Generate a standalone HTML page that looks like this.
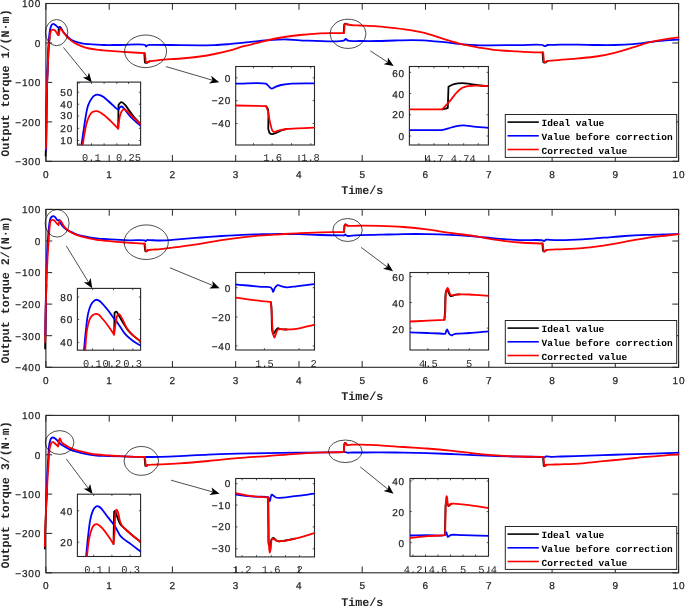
<!DOCTYPE html>
<html><head><meta charset="utf-8"><style>
html,body{margin:0;padding:0;background:#fff;width:685px;height:607px;overflow:hidden}
svg{display:block;text-rendering:geometricPrecision;will-change:transform}
</style></head><body>
<svg width="685" height="607" viewBox="0 0 685 607">
<rect width="685" height="607" fill="#fff"/>
<rect x="45.9" y="3.5" width="632.7" height="157.8" fill="none" stroke="#262626" stroke-width="1.1"/>
<line x1="45.9" y1="3.5" x2="52.2" y2="3.5" stroke="#262626" stroke-width="1"/>
<line x1="678.6" y1="3.5" x2="672.3" y2="3.5" stroke="#262626" stroke-width="1"/>
<text x="41.2" y="7.3" text-anchor="end" style='font-family:"Liberation Sans",sans-serif;font-size:10px;letter-spacing:0.85px;fill:#262626;stroke:#262626;stroke-width:0.25px'>100</text>
<line x1="45.9" y1="43.0" x2="52.2" y2="43.0" stroke="#262626" stroke-width="1"/>
<line x1="678.6" y1="43.0" x2="672.3" y2="43.0" stroke="#262626" stroke-width="1"/>
<text x="41.2" y="46.8" text-anchor="end" style='font-family:"Liberation Sans",sans-serif;font-size:10px;letter-spacing:0.85px;fill:#262626;stroke:#262626;stroke-width:0.25px'>0</text>
<line x1="45.9" y1="82.4" x2="52.2" y2="82.4" stroke="#262626" stroke-width="1"/>
<line x1="678.6" y1="82.4" x2="672.3" y2="82.4" stroke="#262626" stroke-width="1"/>
<text x="41.2" y="86.2" text-anchor="end" style='font-family:"Liberation Sans",sans-serif;font-size:10px;letter-spacing:0.85px;fill:#262626;stroke:#262626;stroke-width:0.25px'>&#8722;100</text>
<line x1="45.9" y1="121.9" x2="52.2" y2="121.9" stroke="#262626" stroke-width="1"/>
<line x1="678.6" y1="121.9" x2="672.3" y2="121.9" stroke="#262626" stroke-width="1"/>
<text x="41.2" y="125.7" text-anchor="end" style='font-family:"Liberation Sans",sans-serif;font-size:10px;letter-spacing:0.85px;fill:#262626;stroke:#262626;stroke-width:0.25px'>&#8722;200</text>
<line x1="45.9" y1="161.3" x2="52.2" y2="161.3" stroke="#262626" stroke-width="1"/>
<line x1="678.6" y1="161.3" x2="672.3" y2="161.3" stroke="#262626" stroke-width="1"/>
<text x="41.2" y="165.1" text-anchor="end" style='font-family:"Liberation Sans",sans-serif;font-size:10px;letter-spacing:0.85px;fill:#262626;stroke:#262626;stroke-width:0.25px'>&#8722;300</text>
<line x1="45.9" y1="3.5" x2="45.9" y2="9.8" stroke="#262626" stroke-width="1"/>
<line x1="45.9" y1="161.3" x2="45.9" y2="155.0" stroke="#262626" stroke-width="1"/>
<text x="46.2" y="177.7" text-anchor="middle" style='font-family:"Liberation Sans",sans-serif;font-size:10px;letter-spacing:0.85px;fill:#262626;stroke:#262626;stroke-width:0.25px'>0</text>
<line x1="109.2" y1="3.5" x2="109.2" y2="9.8" stroke="#262626" stroke-width="1"/>
<line x1="109.2" y1="161.3" x2="109.2" y2="155.0" stroke="#262626" stroke-width="1"/>
<text x="109.5" y="177.7" text-anchor="middle" style='font-family:"Liberation Sans",sans-serif;font-size:10px;letter-spacing:0.85px;fill:#262626;stroke:#262626;stroke-width:0.25px'>1</text>
<line x1="172.4" y1="3.5" x2="172.4" y2="9.8" stroke="#262626" stroke-width="1"/>
<line x1="172.4" y1="161.3" x2="172.4" y2="155.0" stroke="#262626" stroke-width="1"/>
<text x="172.7" y="177.7" text-anchor="middle" style='font-family:"Liberation Sans",sans-serif;font-size:10px;letter-spacing:0.85px;fill:#262626;stroke:#262626;stroke-width:0.25px'>2</text>
<line x1="235.7" y1="3.5" x2="235.7" y2="9.8" stroke="#262626" stroke-width="1"/>
<line x1="235.7" y1="161.3" x2="235.7" y2="155.0" stroke="#262626" stroke-width="1"/>
<text x="236.0" y="177.7" text-anchor="middle" style='font-family:"Liberation Sans",sans-serif;font-size:10px;letter-spacing:0.85px;fill:#262626;stroke:#262626;stroke-width:0.25px'>3</text>
<line x1="299.0" y1="3.5" x2="299.0" y2="9.8" stroke="#262626" stroke-width="1"/>
<line x1="299.0" y1="161.3" x2="299.0" y2="155.0" stroke="#262626" stroke-width="1"/>
<text x="299.3" y="177.7" text-anchor="middle" style='font-family:"Liberation Sans",sans-serif;font-size:10px;letter-spacing:0.85px;fill:#262626;stroke:#262626;stroke-width:0.25px'>4</text>
<line x1="362.2" y1="3.5" x2="362.2" y2="9.8" stroke="#262626" stroke-width="1"/>
<line x1="362.2" y1="161.3" x2="362.2" y2="155.0" stroke="#262626" stroke-width="1"/>
<text x="362.6" y="177.7" text-anchor="middle" style='font-family:"Liberation Sans",sans-serif;font-size:10px;letter-spacing:0.85px;fill:#262626;stroke:#262626;stroke-width:0.25px'>5</text>
<line x1="425.5" y1="3.5" x2="425.5" y2="9.8" stroke="#262626" stroke-width="1"/>
<line x1="425.5" y1="161.3" x2="425.5" y2="155.0" stroke="#262626" stroke-width="1"/>
<text x="425.8" y="177.7" text-anchor="middle" style='font-family:"Liberation Sans",sans-serif;font-size:10px;letter-spacing:0.85px;fill:#262626;stroke:#262626;stroke-width:0.25px'>6</text>
<line x1="488.8" y1="3.5" x2="488.8" y2="9.8" stroke="#262626" stroke-width="1"/>
<line x1="488.8" y1="161.3" x2="488.8" y2="155.0" stroke="#262626" stroke-width="1"/>
<text x="489.1" y="177.7" text-anchor="middle" style='font-family:"Liberation Sans",sans-serif;font-size:10px;letter-spacing:0.85px;fill:#262626;stroke:#262626;stroke-width:0.25px'>7</text>
<line x1="552.1" y1="3.5" x2="552.1" y2="9.8" stroke="#262626" stroke-width="1"/>
<line x1="552.1" y1="161.3" x2="552.1" y2="155.0" stroke="#262626" stroke-width="1"/>
<text x="552.4" y="177.7" text-anchor="middle" style='font-family:"Liberation Sans",sans-serif;font-size:10px;letter-spacing:0.85px;fill:#262626;stroke:#262626;stroke-width:0.25px'>8</text>
<line x1="615.3" y1="3.5" x2="615.3" y2="9.8" stroke="#262626" stroke-width="1"/>
<line x1="615.3" y1="161.3" x2="615.3" y2="155.0" stroke="#262626" stroke-width="1"/>
<text x="615.6" y="177.7" text-anchor="middle" style='font-family:"Liberation Sans",sans-serif;font-size:10px;letter-spacing:0.85px;fill:#262626;stroke:#262626;stroke-width:0.25px'>9</text>
<line x1="678.6" y1="3.5" x2="678.6" y2="9.8" stroke="#262626" stroke-width="1"/>
<line x1="678.6" y1="161.3" x2="678.6" y2="155.0" stroke="#262626" stroke-width="1"/>
<text x="678.9" y="177.7" text-anchor="middle" style='font-family:"Liberation Sans",sans-serif;font-size:10px;letter-spacing:0.85px;fill:#262626;stroke:#262626;stroke-width:0.25px'>10</text>
<text transform="translate(9.0,83.0) rotate(-90)" text-anchor="middle" style='font-family:"Liberation Mono",monospace;font-size:11.7px;font-weight:bold;fill:#262626'>Output torque 1/(N&#183;m)</text>
<text x="362.2" y="194.2" text-anchor="middle" style='font-family:"Liberation Mono",monospace;font-size:11.7px;font-weight:bold;fill:#262626'>Time/s</text>
<path d="M45.60,155.50 C45.73,152.33 45.87,150.50 46.00,146.00 C46.32,134.99 46.47,104.06 46.90,89.00 C47.18,79.10 47.56,72.02 47.90,64.40 C48.19,57.79 48.42,50.91 48.80,45.90 C49.06,42.46 49.40,40.10 49.70,37.20" fill="none" stroke="#000" stroke-width="1.80" stroke-linejoin="round" stroke-linecap="round"/>
<path d="M58.10,34.80 L58.50,35.00 C58.67,32.50 58.33,28.51 59.00,27.50 C59.26,27.11 59.67,26.91 60.00,27.00 C60.52,27.15 61.00,28.60 61.50,29.40" fill="none" stroke="#000" stroke-width="1.80" stroke-linejoin="round" stroke-linecap="round"/>
<path d="M144.30,53.20 L144.90,62.50 C145.43,62.60 145.88,62.88 146.50,62.80 C147.46,62.68 148.83,61.73 150.00,61.20" fill="none" stroke="#000" stroke-width="1.80" stroke-linejoin="round" stroke-linecap="round"/>
<path d="M343.60,33.10 L344.30,24.30 C344.70,24.07 345.03,23.64 345.50,23.60 C346.13,23.55 347.03,24.20 347.80,24.50" fill="none" stroke="#000" stroke-width="1.80" stroke-linejoin="round" stroke-linecap="round"/>
<path d="M542.60,52.50 L543.30,62.30 C543.87,62.40 544.41,62.72 545.00,62.60 C545.76,62.45 546.60,61.60 547.40,61.10" fill="none" stroke="#000" stroke-width="1.80" stroke-linejoin="round" stroke-linecap="round"/>
<path d="M46.20,150.00 C46.33,136.67 46.41,122.38 46.60,110.00 C46.76,99.28 46.95,89.54 47.20,80.00 C47.43,71.29 47.66,62.53 48.00,55.00 C48.28,48.79 48.54,42.77 49.00,38.00 C49.33,34.52 49.65,31.34 50.20,29.00 C50.57,27.44 50.87,26.08 51.50,25.20 C51.96,24.56 52.61,23.96 53.20,23.90 C53.78,23.85 54.35,24.37 55.00,24.80 C55.93,25.41 57.42,26.93 58.10,27.40 C58.40,27.61 58.54,27.79 58.80,27.80 C59.12,27.81 59.55,27.25 59.90,27.30 C60.28,27.35 60.60,27.75 61.00,28.20 C61.74,29.03 62.61,30.88 63.60,32.20 C64.68,33.64 66.03,35.23 67.30,36.50 C68.47,37.67 69.64,38.77 70.90,39.60 C72.08,40.37 73.13,40.86 74.60,41.40 C76.59,42.14 79.45,42.83 81.90,43.30 C84.32,43.76 86.76,43.97 89.20,44.20 C91.63,44.43 94.07,44.57 96.50,44.70 C98.93,44.83 100.89,44.94 103.80,45.00 C108.14,45.09 114.02,45.00 120.00,45.00 C127.43,45.00 142.16,43.56 145.00,45.00 C145.78,45.39 145.69,46.46 146.10,46.50 C146.52,46.54 146.91,45.47 147.50,45.20 C148.17,44.89 148.70,44.97 150.00,44.90 C154.48,44.65 171.01,45.03 180.00,45.10 C187.34,45.16 193.86,45.29 200.00,45.30 C205.25,45.31 209.74,45.40 214.60,45.20 C219.47,45.00 224.34,44.53 229.20,44.10 C234.07,43.67 238.93,43.10 243.80,42.60 C248.67,42.10 253.53,41.57 258.40,41.10 C263.27,40.63 268.13,40.07 273.00,39.80 C277.86,39.53 282.93,39.40 287.60,39.50 C291.90,39.59 294.60,40.10 300.00,40.30 C310.14,40.67 338.74,42.61 343.80,40.70 C345.05,40.23 345.11,38.92 345.80,38.90 C346.51,38.88 346.87,40.28 348.00,40.70 C350.32,41.56 355.62,40.95 360.00,41.00 C365.28,41.07 371.67,41.08 377.50,41.00 C383.33,40.92 389.23,40.63 395.00,40.50 C400.63,40.37 406.63,40.20 411.70,40.20 C415.95,40.20 419.51,40.22 423.40,40.40 C427.28,40.58 431.13,40.97 435.00,41.30 C438.89,41.63 442.80,41.97 446.70,42.40 C450.60,42.83 454.50,43.48 458.40,43.90 C462.30,44.32 466.36,44.65 470.10,44.90 C473.54,45.13 476.69,45.33 480.00,45.40 C483.32,45.47 485.77,45.34 490.00,45.30 C497.32,45.24 510.72,45.15 520.00,45.10 C528.04,45.06 538.91,44.13 542.50,45.00 C543.72,45.30 544.00,46.17 544.80,46.20 C545.66,46.23 546.46,45.23 547.50,45.00 C548.79,44.71 550.29,44.94 552.00,44.90 C554.29,44.85 556.79,44.75 560.00,44.70 C564.84,44.63 572.13,44.55 578.20,44.60 C584.29,44.65 590.41,44.93 596.50,45.00 C602.57,45.07 608.63,45.15 614.70,45.00 C620.79,44.85 626.92,44.62 633.00,44.10 C639.08,43.58 645.46,42.54 651.20,41.90 C656.33,41.33 661.10,40.77 665.80,40.40 C670.18,40.05 674.27,39.93 678.50,39.70" fill="none" stroke="#00f" stroke-width="1.80" stroke-linejoin="round" stroke-linecap="round"/>
<path d="M45.70,149.00 C45.80,148.00 45.91,147.63 46.00,146.00 C46.41,138.91 46.47,104.06 46.90,89.00 C47.18,79.10 47.56,72.02 47.90,64.40 C48.19,57.79 48.42,50.91 48.80,45.90 C49.06,42.46 49.31,39.85 49.70,37.20 C50.03,34.95 50.09,32.26 50.90,31.00 C51.41,30.22 52.20,29.67 52.90,29.60 C53.57,29.53 54.31,29.95 55.00,30.50 C56.05,31.34 57.40,34.29 58.10,34.80 C58.34,34.98 58.50,34.93 58.70,35.00 C59.23,32.87 59.57,28.84 60.30,28.60 C60.65,28.48 61.08,29.14 61.50,29.60 C62.15,30.30 62.78,31.52 63.60,32.60 C64.64,33.97 66.03,35.76 67.30,37.10 C68.47,38.33 69.66,39.40 70.90,40.40 C72.09,41.36 73.11,42.15 74.60,43.00 C76.58,44.13 79.44,45.38 81.90,46.30 C84.30,47.20 86.75,47.93 89.20,48.50 C91.62,49.06 94.06,49.38 96.50,49.70 C98.93,50.02 101.47,50.19 103.80,50.40 C105.95,50.59 107.54,50.71 110.00,50.90 C113.62,51.18 118.41,51.56 123.40,51.90 C129.72,52.33 137.73,52.77 144.90,53.20 L145.80,62.00 C146.13,62.10 146.37,62.31 146.80,62.30 C147.57,62.28 148.80,61.46 150.00,61.20 C151.47,60.88 153.30,60.91 155.00,60.70 C156.77,60.48 158.01,60.16 160.40,59.90 C165.03,59.40 174.19,59.08 180.90,58.50 C187.38,57.94 194.07,57.32 200.00,56.50 C205.21,55.78 209.75,54.98 214.60,54.00 C219.48,53.01 224.35,51.89 229.20,50.60 C234.09,49.30 238.92,47.54 243.80,46.20 C248.65,44.87 253.53,43.80 258.40,42.60 C263.27,41.40 268.11,40.02 273.00,39.00 C277.85,37.99 282.92,37.18 287.60,36.50 C291.89,35.87 295.37,35.47 300.00,35.00 C305.87,34.41 314.18,33.71 320.00,33.40 C324.50,33.16 328.00,33.15 332.00,33.10 C336.00,33.05 340.00,33.10 344.00,33.10 L344.70,24.60 C345.00,24.37 345.21,23.98 345.60,23.90 C346.15,23.79 346.86,24.32 347.80,24.50 C349.40,24.81 352.29,25.13 354.40,25.30 C356.34,25.45 357.62,25.40 360.00,25.50 C364.22,25.67 371.67,25.87 377.50,26.30 C383.34,26.73 389.24,27.41 395.00,28.10 C400.64,28.78 406.64,29.55 411.70,30.40 C415.96,31.11 419.53,31.74 423.40,32.70 C427.30,33.67 431.13,35.00 435.00,36.20 C438.90,37.40 442.79,38.71 446.70,39.90 C450.59,41.08 454.48,42.30 458.40,43.30 C462.28,44.29 466.36,45.13 470.10,45.90 C473.53,46.61 476.44,47.19 480.00,47.80 C484.14,48.50 488.38,49.25 493.50,49.80 C500.20,50.53 510.13,50.99 516.80,51.40 C521.82,51.71 525.60,51.92 530.00,52.10 C534.40,52.28 538.80,52.37 543.20,52.50 L544.00,61.80 C544.33,61.93 544.60,62.21 545.00,62.20 C545.63,62.18 546.45,61.36 547.40,61.10 C548.66,60.75 550.25,60.77 552.00,60.60 C554.30,60.37 556.79,60.17 560.00,59.90 C564.84,59.49 572.13,58.97 578.20,58.40 C584.29,57.83 590.43,57.43 596.50,56.50 C602.60,55.57 608.66,54.30 614.70,52.80 C620.82,51.28 626.91,49.22 633.00,47.40 C639.08,45.58 645.43,43.30 651.20,41.90 C656.30,40.66 661.10,39.99 665.80,39.20 C670.17,38.47 674.27,37.93 678.50,37.30" fill="none" stroke="#f00" stroke-width="1.80" stroke-linejoin="round" stroke-linecap="round"/>
<ellipse cx="56.6" cy="32.6" rx="11.2" ry="13.1" fill="none" stroke="#000" stroke-width="0.7"/>
<ellipse cx="145.6" cy="51.3" rx="21.0" ry="16.3" fill="none" stroke="#000" stroke-width="0.7"/>
<ellipse cx="348.0" cy="33.8" rx="18.0" ry="14.6" fill="none" stroke="#000" stroke-width="0.7"/>
<line x1="63.4" y1="47.4" x2="87.4" y2="76.9" stroke="#000" stroke-width="0.7"/>
<polygon points="91.9,82.4 82.8,77.6 87.4,76.9 89.0,72.5" fill="#000"/>
<line x1="166.1" y1="66.6" x2="212.4" y2="80.2" stroke="#000" stroke-width="0.7"/>
<polygon points="219.2,82.2 209.0,83.4 212.4,80.2 211.2,75.7" fill="#000"/>
<line x1="370.3" y1="50.9" x2="387.7" y2="62.2" stroke="#000" stroke-width="0.7"/>
<polygon points="393.7,66.1 383.6,64.3 387.7,62.2 387.9,57.6" fill="#000"/>
<rect x="77.4" y="82.1" width="63.2" height="63.0" fill="#fff" stroke="#262626" stroke-width="1.1"/>
<clipPath id="c68"><rect x="77.4" y="82.1" width="63.2" height="63.0"/></clipPath>
<g clip-path="url(#c68)">
<path d="M118.20,128.60 L118.50,104.80 C119.43,103.90 120.26,102.18 121.30,102.10 C122.44,102.01 123.92,103.61 125.10,104.80 C126.53,106.24 127.56,108.44 129.00,110.40 C130.65,112.65 132.57,115.20 134.50,117.50 C136.44,119.81 138.57,121.97 140.60,124.20" fill="none" stroke="#000" stroke-width="1.80" stroke-linejoin="round" stroke-linecap="round"/>
<path d="M81.30,146.00 C82.10,140.57 82.91,134.96 83.70,129.70 C84.44,124.75 85.09,119.64 85.90,115.30 C86.58,111.68 87.05,108.31 88.10,105.40 C89.00,102.91 90.27,100.54 91.50,98.80 C92.44,97.46 93.40,96.28 94.50,95.60 C95.43,95.02 96.50,94.73 97.50,94.70 C98.50,94.67 99.52,95.02 100.50,95.40 C101.55,95.80 102.39,96.26 103.60,97.10 C105.65,98.52 108.76,101.58 111.30,103.70 C113.73,105.74 117.21,109.85 118.50,109.60 C119.14,109.48 119.07,108.11 119.60,107.60 C120.15,107.07 121.04,106.38 121.80,106.50 C122.85,106.67 123.88,108.43 125.10,109.80 C126.87,111.79 128.82,114.99 131.20,117.50 C133.89,120.34 137.47,123.03 140.60,125.80" fill="none" stroke="#00f" stroke-width="1.80" stroke-linejoin="round" stroke-linecap="round"/>
<path d="M82.60,146.00 C83.33,141.30 83.99,136.19 84.80,131.90 C85.48,128.27 86.01,124.97 87.00,121.90 C87.89,119.12 89.04,115.95 90.30,114.20 C91.13,113.05 91.97,112.32 93.00,111.80 C94.01,111.29 95.30,111.06 96.40,111.10 C97.46,111.14 98.44,111.50 99.50,112.00 C100.82,112.62 102.06,113.60 103.60,114.80 C105.82,116.54 108.83,119.37 111.30,121.70 C113.70,123.97 115.90,126.30 118.20,128.60 C118.67,124.90 118.95,120.53 119.60,117.50 C120.07,115.32 120.44,113.45 121.30,112.00 C122.00,110.81 122.97,109.29 124.00,109.20 C125.14,109.10 126.48,110.80 127.90,112.00 C129.87,113.68 132.32,116.51 134.50,118.60 C136.55,120.57 138.57,122.33 140.60,124.20" fill="none" stroke="#f00" stroke-width="1.80" stroke-linejoin="round" stroke-linecap="round"/>
</g>
<line x1="77.4" y1="92.3" x2="79.2" y2="92.3" stroke="#262626" stroke-width="0.8"/>
<line x1="140.6" y1="92.3" x2="138.8" y2="92.3" stroke="#262626" stroke-width="0.8"/>
<line x1="77.4" y1="104.2" x2="79.2" y2="104.2" stroke="#262626" stroke-width="0.8"/>
<line x1="140.6" y1="104.2" x2="138.8" y2="104.2" stroke="#262626" stroke-width="0.8"/>
<line x1="77.4" y1="116.1" x2="79.2" y2="116.1" stroke="#262626" stroke-width="0.8"/>
<line x1="140.6" y1="116.1" x2="138.8" y2="116.1" stroke="#262626" stroke-width="0.8"/>
<line x1="77.4" y1="128.3" x2="79.2" y2="128.3" stroke="#262626" stroke-width="0.8"/>
<line x1="140.6" y1="128.3" x2="138.8" y2="128.3" stroke="#262626" stroke-width="0.8"/>
<line x1="77.4" y1="140.5" x2="79.2" y2="140.5" stroke="#262626" stroke-width="0.8"/>
<line x1="140.6" y1="140.5" x2="138.8" y2="140.5" stroke="#262626" stroke-width="0.8"/>
<line x1="79.0" y1="82.1" x2="79.0" y2="83.9" stroke="#262626" stroke-width="0.8"/>
<line x1="79.0" y1="145.1" x2="79.0" y2="143.3" stroke="#262626" stroke-width="0.8"/>
<line x1="91.5" y1="82.1" x2="91.5" y2="83.9" stroke="#262626" stroke-width="0.8"/>
<line x1="91.5" y1="145.1" x2="91.5" y2="143.3" stroke="#262626" stroke-width="0.8"/>
<line x1="104.1" y1="82.1" x2="104.1" y2="83.9" stroke="#262626" stroke-width="0.8"/>
<line x1="104.1" y1="145.1" x2="104.1" y2="143.3" stroke="#262626" stroke-width="0.8"/>
<line x1="116.8" y1="82.1" x2="116.8" y2="83.9" stroke="#262626" stroke-width="0.8"/>
<line x1="116.8" y1="145.1" x2="116.8" y2="143.3" stroke="#262626" stroke-width="0.8"/>
<line x1="128.5" y1="82.1" x2="128.5" y2="83.9" stroke="#262626" stroke-width="0.8"/>
<line x1="128.5" y1="145.1" x2="128.5" y2="143.3" stroke="#262626" stroke-width="0.8"/>
<text x="73.2" y="95.8" text-anchor="end" style='font-family:"Liberation Sans",sans-serif;font-size:10px;letter-spacing:0.85px;fill:#262626;stroke:#262626;stroke-width:0.25px'>50</text>
<text x="73.2" y="107.5" text-anchor="end" style='font-family:"Liberation Sans",sans-serif;font-size:10px;letter-spacing:0.85px;fill:#262626;stroke:#262626;stroke-width:0.25px'>40</text>
<text x="73.2" y="119.3" text-anchor="end" style='font-family:"Liberation Sans",sans-serif;font-size:10px;letter-spacing:0.85px;fill:#262626;stroke:#262626;stroke-width:0.25px'>30</text>
<text x="73.2" y="132.0" text-anchor="end" style='font-family:"Liberation Sans",sans-serif;font-size:10px;letter-spacing:0.85px;fill:#262626;stroke:#262626;stroke-width:0.25px'>20</text>
<text x="73.2" y="144.1" text-anchor="end" style='font-family:"Liberation Sans",sans-serif;font-size:10px;letter-spacing:0.85px;fill:#262626;stroke:#262626;stroke-width:0.25px'>10</text>
<text x="91.3" y="161.3" text-anchor="middle" style='font-family:"Liberation Mono",monospace;font-size:10.4px;fill:#262626'>0.1</text>
<text x="128.4" y="161.3" text-anchor="middle" style='font-family:"Liberation Mono",monospace;font-size:10.4px;fill:#262626'>0.25</text>
<rect x="235.7" y="66.5" width="78.8" height="78.5" fill="#fff" stroke="#262626" stroke-width="1.1"/>
<clipPath id="c102"><rect x="235.7" y="66.5" width="78.8" height="78.5"/></clipPath>
<g clip-path="url(#c102)">
<path d="M266.10,106.20 C266.70,107.13 267.46,107.55 267.90,109.00 C268.98,112.56 268.17,122.33 268.30,129.00 C268.77,130.40 268.91,132.35 269.70,133.20 C270.31,133.85 271.22,134.15 272.10,134.20 C273.13,134.26 274.33,133.66 275.50,133.20 C276.85,132.67 278.10,131.74 279.70,131.10 C281.69,130.31 284.30,129.70 286.60,129.00" fill="none" stroke="#000" stroke-width="1.80" stroke-linejoin="round" stroke-linecap="round"/>
<path d="M235.70,83.70 C245.73,83.70 261.22,82.01 265.80,83.70 C267.40,84.29 267.65,85.30 268.60,86.10 C269.58,86.93 270.48,88.45 271.60,88.60 C272.77,88.75 274.06,87.36 275.50,86.80 C277.18,86.14 279.03,85.48 281.10,85.00 C283.57,84.43 285.88,84.08 289.40,83.80 C295.50,83.31 306.13,83.53 314.50,83.40" fill="none" stroke="#00f" stroke-width="1.80" stroke-linejoin="round" stroke-linecap="round"/>
<path d="M235.70,105.50 L266.10,106.20 C266.70,107.83 267.33,109.07 267.90,111.10 C268.78,114.26 269.26,119.82 270.30,123.50 C271.17,126.58 271.72,130.89 273.40,131.80 C274.67,132.49 276.45,131.10 278.30,130.70 C280.70,130.18 283.71,129.38 286.60,129.00 C289.69,128.59 292.56,128.59 296.30,128.40 C301.42,128.14 308.43,127.93 314.50,127.70" fill="none" stroke="#f00" stroke-width="1.80" stroke-linejoin="round" stroke-linecap="round"/>
</g>
<line x1="235.7" y1="77.8" x2="237.5" y2="77.8" stroke="#262626" stroke-width="0.8"/>
<line x1="314.5" y1="77.8" x2="312.7" y2="77.8" stroke="#262626" stroke-width="0.8"/>
<line x1="235.7" y1="100.7" x2="237.5" y2="100.7" stroke="#262626" stroke-width="0.8"/>
<line x1="314.5" y1="100.7" x2="312.7" y2="100.7" stroke="#262626" stroke-width="0.8"/>
<line x1="235.7" y1="123.5" x2="237.5" y2="123.5" stroke="#262626" stroke-width="0.8"/>
<line x1="314.5" y1="123.5" x2="312.7" y2="123.5" stroke="#262626" stroke-width="0.8"/>
<line x1="253.5" y1="66.5" x2="253.5" y2="68.3" stroke="#262626" stroke-width="0.8"/>
<line x1="253.5" y1="145.0" x2="253.5" y2="143.2" stroke="#262626" stroke-width="0.8"/>
<line x1="272.1" y1="66.5" x2="272.1" y2="68.3" stroke="#262626" stroke-width="0.8"/>
<line x1="272.1" y1="145.0" x2="272.1" y2="143.2" stroke="#262626" stroke-width="0.8"/>
<line x1="291.5" y1="66.5" x2="291.5" y2="68.3" stroke="#262626" stroke-width="0.8"/>
<line x1="291.5" y1="145.0" x2="291.5" y2="143.2" stroke="#262626" stroke-width="0.8"/>
<line x1="310.8" y1="66.5" x2="310.8" y2="68.3" stroke="#262626" stroke-width="0.8"/>
<line x1="310.8" y1="145.0" x2="310.8" y2="143.2" stroke="#262626" stroke-width="0.8"/>
<text x="231.2" y="81.9" text-anchor="end" style='font-family:"Liberation Sans",sans-serif;font-size:10px;letter-spacing:0.85px;fill:#262626;stroke:#262626;stroke-width:0.25px'>0</text>
<text x="231.2" y="104.3" text-anchor="end" style='font-family:"Liberation Sans",sans-serif;font-size:10px;letter-spacing:0.85px;fill:#262626;stroke:#262626;stroke-width:0.25px'>&#8722;20</text>
<text x="231.2" y="127.1" text-anchor="end" style='font-family:"Liberation Sans",sans-serif;font-size:10px;letter-spacing:0.85px;fill:#262626;stroke:#262626;stroke-width:0.25px'>&#8722;40</text>
<text x="272.7" y="161.1" text-anchor="middle" style='font-family:"Liberation Mono",monospace;font-size:10.4px;fill:#262626'>1.6</text>
<text x="310.5" y="161.1" text-anchor="middle" style='font-family:"Liberation Mono",monospace;font-size:10.4px;fill:#262626'>1.8</text>
<rect x="409.4" y="66.5" width="79.0" height="78.5" fill="#fff" stroke="#262626" stroke-width="1.1"/>
<clipPath id="c128"><rect x="409.4" y="66.5" width="79.0" height="78.5"/></clipPath>
<g clip-path="url(#c128)">
<path d="M442.30,109.30 L447.80,108.00 L448.50,86.80 C450.33,85.90 451.91,84.72 454.00,84.10 C456.45,83.38 459.61,83.10 462.40,83.10 C465.18,83.10 467.84,83.72 470.70,84.10 C473.79,84.51 477.23,85.16 480.30,85.50 C483.11,85.81 485.70,85.90 488.40,86.10" fill="none" stroke="#000" stroke-width="1.80" stroke-linejoin="round" stroke-linecap="round"/>
<path d="M409.40,130.10 L441.60,130.10 C443.90,129.53 446.21,129.03 448.50,128.40 C450.81,127.76 452.97,126.81 455.40,126.30 C458.02,125.75 460.93,125.30 463.70,125.30 C466.47,125.30 468.76,125.95 472.00,126.30 C476.54,126.80 482.93,127.37 488.40,127.90" fill="none" stroke="#00f" stroke-width="1.80" stroke-linejoin="round" stroke-linecap="round"/>
<path d="M409.40,109.30 L442.30,109.30 C443.90,107.57 445.56,105.81 447.10,104.10 C448.56,102.48 449.83,101.06 451.30,99.30 C453.03,97.23 454.85,94.38 456.80,92.40 C458.57,90.60 460.43,88.86 462.40,87.80 C464.15,86.86 465.85,86.46 467.90,86.10 C470.36,85.67 473.17,85.72 476.20,85.70 C479.88,85.67 484.33,85.97 488.40,86.10" fill="none" stroke="#f00" stroke-width="1.80" stroke-linejoin="round" stroke-linecap="round"/>
</g>
<line x1="409.4" y1="72.3" x2="411.2" y2="72.3" stroke="#262626" stroke-width="0.8"/>
<line x1="488.4" y1="72.3" x2="486.6" y2="72.3" stroke="#262626" stroke-width="0.8"/>
<line x1="409.4" y1="93.5" x2="411.2" y2="93.5" stroke="#262626" stroke-width="0.8"/>
<line x1="488.4" y1="93.5" x2="486.6" y2="93.5" stroke="#262626" stroke-width="0.8"/>
<line x1="409.4" y1="114.8" x2="411.2" y2="114.8" stroke="#262626" stroke-width="0.8"/>
<line x1="488.4" y1="114.8" x2="486.6" y2="114.8" stroke="#262626" stroke-width="0.8"/>
<line x1="409.4" y1="136.0" x2="411.2" y2="136.0" stroke="#262626" stroke-width="0.8"/>
<line x1="488.4" y1="136.0" x2="486.6" y2="136.0" stroke="#262626" stroke-width="0.8"/>
<line x1="418.8" y1="66.5" x2="418.8" y2="68.3" stroke="#262626" stroke-width="0.8"/>
<line x1="418.8" y1="145.0" x2="418.8" y2="143.2" stroke="#262626" stroke-width="0.8"/>
<line x1="434.0" y1="66.5" x2="434.0" y2="68.3" stroke="#262626" stroke-width="0.8"/>
<line x1="434.0" y1="145.0" x2="434.0" y2="143.2" stroke="#262626" stroke-width="0.8"/>
<line x1="448.5" y1="66.5" x2="448.5" y2="68.3" stroke="#262626" stroke-width="0.8"/>
<line x1="448.5" y1="145.0" x2="448.5" y2="143.2" stroke="#262626" stroke-width="0.8"/>
<line x1="463.7" y1="66.5" x2="463.7" y2="68.3" stroke="#262626" stroke-width="0.8"/>
<line x1="463.7" y1="145.0" x2="463.7" y2="143.2" stroke="#262626" stroke-width="0.8"/>
<line x1="478.3" y1="66.5" x2="478.3" y2="68.3" stroke="#262626" stroke-width="0.8"/>
<line x1="478.3" y1="145.0" x2="478.3" y2="143.2" stroke="#262626" stroke-width="0.8"/>
<text x="405.0" y="77.1" text-anchor="end" style='font-family:"Liberation Sans",sans-serif;font-size:10px;letter-spacing:0.85px;fill:#262626;stroke:#262626;stroke-width:0.25px'>60</text>
<text x="405.0" y="97.5" text-anchor="end" style='font-family:"Liberation Sans",sans-serif;font-size:10px;letter-spacing:0.85px;fill:#262626;stroke:#262626;stroke-width:0.25px'>40</text>
<text x="405.0" y="118.2" text-anchor="end" style='font-family:"Liberation Sans",sans-serif;font-size:10px;letter-spacing:0.85px;fill:#262626;stroke:#262626;stroke-width:0.25px'>20</text>
<text x="405.0" y="139.6" text-anchor="end" style='font-family:"Liberation Sans",sans-serif;font-size:10px;letter-spacing:0.85px;fill:#262626;stroke:#262626;stroke-width:0.25px'>0</text>
<text x="434.3" y="161.7" text-anchor="middle" style='font-family:"Liberation Mono",monospace;font-size:10.4px;fill:#262626'>4.7</text>
<text x="463.2" y="161.7" text-anchor="middle" style='font-family:"Liberation Mono",monospace;font-size:10.4px;fill:#262626'>4.74</text>
<rect x="505.3" y="114.5" width="171.4" height="42.9" fill="#fff" stroke="#262626" stroke-width="1"/>
<line x1="507.5" y1="122.1" x2="538.8" y2="122.1" stroke="#000" stroke-width="1.6"/>
<text x="541.6" y="126.1" style='font-family:"Liberation Mono",monospace;font-size:9.5px;font-weight:bold;fill:#000'>Ideal value</text>
<line x1="507.5" y1="135.8" x2="538.8" y2="135.8" stroke="#00f" stroke-width="1.6"/>
<text x="541.6" y="139.8" style='font-family:"Liberation Mono",monospace;font-size:9.5px;font-weight:bold;fill:#000'>Value before correction</text>
<line x1="507.5" y1="149.5" x2="538.8" y2="149.5" stroke="#f00" stroke-width="1.6"/>
<text x="541.6" y="153.5" style='font-family:"Liberation Mono",monospace;font-size:9.5px;font-weight:bold;fill:#000'>Corrected value</text>
<rect x="45.9" y="209.4" width="632.7" height="157.9" fill="none" stroke="#262626" stroke-width="1.1"/>
<line x1="45.9" y1="209.4" x2="52.2" y2="209.4" stroke="#262626" stroke-width="1"/>
<line x1="678.6" y1="209.4" x2="672.3" y2="209.4" stroke="#262626" stroke-width="1"/>
<text x="41.2" y="213.2" text-anchor="end" style='font-family:"Liberation Sans",sans-serif;font-size:10px;letter-spacing:0.85px;fill:#262626;stroke:#262626;stroke-width:0.25px'>100</text>
<line x1="45.9" y1="241.0" x2="52.2" y2="241.0" stroke="#262626" stroke-width="1"/>
<line x1="678.6" y1="241.0" x2="672.3" y2="241.0" stroke="#262626" stroke-width="1"/>
<text x="41.2" y="244.8" text-anchor="end" style='font-family:"Liberation Sans",sans-serif;font-size:10px;letter-spacing:0.85px;fill:#262626;stroke:#262626;stroke-width:0.25px'>0</text>
<line x1="45.9" y1="272.6" x2="52.2" y2="272.6" stroke="#262626" stroke-width="1"/>
<line x1="678.6" y1="272.6" x2="672.3" y2="272.6" stroke="#262626" stroke-width="1"/>
<text x="41.2" y="276.4" text-anchor="end" style='font-family:"Liberation Sans",sans-serif;font-size:10px;letter-spacing:0.85px;fill:#262626;stroke:#262626;stroke-width:0.25px'>&#8722;100</text>
<line x1="45.9" y1="304.1" x2="52.2" y2="304.1" stroke="#262626" stroke-width="1"/>
<line x1="678.6" y1="304.1" x2="672.3" y2="304.1" stroke="#262626" stroke-width="1"/>
<text x="41.2" y="307.9" text-anchor="end" style='font-family:"Liberation Sans",sans-serif;font-size:10px;letter-spacing:0.85px;fill:#262626;stroke:#262626;stroke-width:0.25px'>&#8722;200</text>
<line x1="45.9" y1="335.7" x2="52.2" y2="335.7" stroke="#262626" stroke-width="1"/>
<line x1="678.6" y1="335.7" x2="672.3" y2="335.7" stroke="#262626" stroke-width="1"/>
<text x="41.2" y="339.5" text-anchor="end" style='font-family:"Liberation Sans",sans-serif;font-size:10px;letter-spacing:0.85px;fill:#262626;stroke:#262626;stroke-width:0.25px'>&#8722;300</text>
<line x1="45.9" y1="367.3" x2="52.2" y2="367.3" stroke="#262626" stroke-width="1"/>
<line x1="678.6" y1="367.3" x2="672.3" y2="367.3" stroke="#262626" stroke-width="1"/>
<text x="41.2" y="371.1" text-anchor="end" style='font-family:"Liberation Sans",sans-serif;font-size:10px;letter-spacing:0.85px;fill:#262626;stroke:#262626;stroke-width:0.25px'>&#8722;400</text>
<line x1="45.9" y1="209.4" x2="45.9" y2="215.7" stroke="#262626" stroke-width="1"/>
<line x1="45.9" y1="367.3" x2="45.9" y2="361.0" stroke="#262626" stroke-width="1"/>
<text x="46.2" y="383.7" text-anchor="middle" style='font-family:"Liberation Sans",sans-serif;font-size:10px;letter-spacing:0.85px;fill:#262626;stroke:#262626;stroke-width:0.25px'>0</text>
<line x1="109.2" y1="209.4" x2="109.2" y2="215.7" stroke="#262626" stroke-width="1"/>
<line x1="109.2" y1="367.3" x2="109.2" y2="361.0" stroke="#262626" stroke-width="1"/>
<text x="109.5" y="383.7" text-anchor="middle" style='font-family:"Liberation Sans",sans-serif;font-size:10px;letter-spacing:0.85px;fill:#262626;stroke:#262626;stroke-width:0.25px'>1</text>
<line x1="172.4" y1="209.4" x2="172.4" y2="215.7" stroke="#262626" stroke-width="1"/>
<line x1="172.4" y1="367.3" x2="172.4" y2="361.0" stroke="#262626" stroke-width="1"/>
<text x="172.7" y="383.7" text-anchor="middle" style='font-family:"Liberation Sans",sans-serif;font-size:10px;letter-spacing:0.85px;fill:#262626;stroke:#262626;stroke-width:0.25px'>2</text>
<line x1="235.7" y1="209.4" x2="235.7" y2="215.7" stroke="#262626" stroke-width="1"/>
<line x1="235.7" y1="367.3" x2="235.7" y2="361.0" stroke="#262626" stroke-width="1"/>
<text x="236.0" y="383.7" text-anchor="middle" style='font-family:"Liberation Sans",sans-serif;font-size:10px;letter-spacing:0.85px;fill:#262626;stroke:#262626;stroke-width:0.25px'>3</text>
<line x1="299.0" y1="209.4" x2="299.0" y2="215.7" stroke="#262626" stroke-width="1"/>
<line x1="299.0" y1="367.3" x2="299.0" y2="361.0" stroke="#262626" stroke-width="1"/>
<text x="299.3" y="383.7" text-anchor="middle" style='font-family:"Liberation Sans",sans-serif;font-size:10px;letter-spacing:0.85px;fill:#262626;stroke:#262626;stroke-width:0.25px'>4</text>
<line x1="362.2" y1="209.4" x2="362.2" y2="215.7" stroke="#262626" stroke-width="1"/>
<line x1="362.2" y1="367.3" x2="362.2" y2="361.0" stroke="#262626" stroke-width="1"/>
<text x="362.6" y="383.7" text-anchor="middle" style='font-family:"Liberation Sans",sans-serif;font-size:10px;letter-spacing:0.85px;fill:#262626;stroke:#262626;stroke-width:0.25px'>5</text>
<line x1="425.5" y1="209.4" x2="425.5" y2="215.7" stroke="#262626" stroke-width="1"/>
<line x1="425.5" y1="367.3" x2="425.5" y2="361.0" stroke="#262626" stroke-width="1"/>
<text x="425.8" y="383.7" text-anchor="middle" style='font-family:"Liberation Sans",sans-serif;font-size:10px;letter-spacing:0.85px;fill:#262626;stroke:#262626;stroke-width:0.25px'>6</text>
<line x1="488.8" y1="209.4" x2="488.8" y2="215.7" stroke="#262626" stroke-width="1"/>
<line x1="488.8" y1="367.3" x2="488.8" y2="361.0" stroke="#262626" stroke-width="1"/>
<text x="489.1" y="383.7" text-anchor="middle" style='font-family:"Liberation Sans",sans-serif;font-size:10px;letter-spacing:0.85px;fill:#262626;stroke:#262626;stroke-width:0.25px'>7</text>
<line x1="552.1" y1="209.4" x2="552.1" y2="215.7" stroke="#262626" stroke-width="1"/>
<line x1="552.1" y1="367.3" x2="552.1" y2="361.0" stroke="#262626" stroke-width="1"/>
<text x="552.4" y="383.7" text-anchor="middle" style='font-family:"Liberation Sans",sans-serif;font-size:10px;letter-spacing:0.85px;fill:#262626;stroke:#262626;stroke-width:0.25px'>8</text>
<line x1="615.3" y1="209.4" x2="615.3" y2="215.7" stroke="#262626" stroke-width="1"/>
<line x1="615.3" y1="367.3" x2="615.3" y2="361.0" stroke="#262626" stroke-width="1"/>
<text x="615.6" y="383.7" text-anchor="middle" style='font-family:"Liberation Sans",sans-serif;font-size:10px;letter-spacing:0.85px;fill:#262626;stroke:#262626;stroke-width:0.25px'>9</text>
<line x1="678.6" y1="209.4" x2="678.6" y2="215.7" stroke="#262626" stroke-width="1"/>
<line x1="678.6" y1="367.3" x2="678.6" y2="361.0" stroke="#262626" stroke-width="1"/>
<text x="678.9" y="383.7" text-anchor="middle" style='font-family:"Liberation Sans",sans-serif;font-size:10px;letter-spacing:0.85px;fill:#262626;stroke:#262626;stroke-width:0.25px'>10</text>
<text transform="translate(9.0,289.8) rotate(-90)" text-anchor="middle" style='font-family:"Liberation Mono",monospace;font-size:11.7px;font-weight:bold;fill:#262626'>Output torque 2/(N&#183;m)</text>
<text x="362.2" y="400.2" text-anchor="middle" style='font-family:"Liberation Mono",monospace;font-size:11.7px;font-weight:bold;fill:#262626'>Time/s</text>
<path d="M45.10,348.50 C45.33,334.23 45.53,317.40 45.80,305.70 C45.98,297.56 46.20,291.90 46.40,285.00" fill="none" stroke="#000" stroke-width="1.80" stroke-linejoin="round" stroke-linecap="round"/>
<path d="M144.40,243.60 L145.20,251.00 C145.50,251.13 145.76,251.44 146.10,251.40 C146.61,251.35 147.30,250.53 147.90,250.10" fill="none" stroke="#000" stroke-width="1.80" stroke-linejoin="round" stroke-linecap="round"/>
<path d="M343.90,232.10 L344.60,225.40 C344.90,225.10 345.17,224.55 345.50,224.50 C345.81,224.45 346.15,224.80 346.50,225.00 C346.91,225.23 347.37,225.53 347.80,225.80" fill="none" stroke="#000" stroke-width="1.80" stroke-linejoin="round" stroke-linecap="round"/>
<path d="M542.30,243.50 L543.10,251.00 C543.43,251.17 543.69,251.51 544.10,251.50 C544.77,251.48 545.83,250.50 546.70,250.00" fill="none" stroke="#000" stroke-width="1.80" stroke-linejoin="round" stroke-linecap="round"/>
<path d="M45.30,335.00 C45.47,323.33 45.59,310.32 45.80,300.00 C45.97,291.82 46.22,284.75 46.40,278.00 C46.55,272.24 46.60,267.41 46.80,262.00 C47.00,256.42 47.27,250.66 47.60,245.00 C47.93,239.33 48.26,232.73 48.80,228.00 C49.19,224.58 49.51,221.11 50.20,219.20 C50.57,218.17 50.94,217.51 51.50,217.00 C51.98,216.57 52.62,216.21 53.20,216.20 C53.79,216.19 54.39,216.54 55.00,217.00 C55.91,217.69 56.95,220.16 57.80,220.40 C58.29,220.54 58.83,219.72 59.20,219.90 C59.73,220.16 59.70,221.85 60.20,222.80 C60.76,223.86 61.73,224.99 62.50,225.90 C63.17,226.69 63.74,227.34 64.50,228.00 C65.33,228.72 66.29,229.37 67.30,230.00 C68.40,230.68 69.68,231.32 70.90,231.90 C72.11,232.48 73.14,232.95 74.60,233.50 C76.61,234.26 79.45,235.26 81.90,235.90 C84.31,236.53 86.76,236.90 89.20,237.30 C91.63,237.70 94.06,238.02 96.50,238.30 C98.93,238.58 101.46,238.83 103.80,239.00 C105.95,239.15 107.35,239.17 110.00,239.30 C114.77,239.53 123.87,240.13 130.00,240.30 C135.22,240.45 142.31,239.77 144.50,240.40 C145.21,240.60 145.39,241.24 145.80,241.20 C146.22,241.16 146.46,240.31 147.00,240.10 C147.74,239.81 148.70,240.07 150.00,240.10 C152.42,240.15 156.35,240.56 160.40,240.50 C166.09,240.42 174.08,239.60 180.90,239.10 C187.71,238.60 194.50,238.02 201.30,237.50 C208.10,236.98 214.89,236.45 221.70,236.00 C228.52,235.55 235.37,235.10 242.20,234.80 C249.01,234.50 256.07,234.37 262.60,234.20 C268.63,234.04 274.00,233.81 280.00,233.80 C286.43,233.79 293.33,234.00 300.00,234.20 C306.67,234.40 313.25,234.80 320.00,235.00 C326.91,235.20 337.07,235.36 341.00,235.40 C342.53,235.41 343.44,235.67 344.20,235.40 C344.70,235.22 344.93,234.50 345.30,234.50 C345.69,234.50 346.07,235.25 346.50,235.50 C346.91,235.74 347.23,235.92 347.80,236.00 C348.79,236.14 350.37,235.72 352.00,235.60 C354.24,235.44 356.73,235.32 360.00,235.20 C365.16,235.01 373.07,234.88 380.00,234.70 C387.49,234.51 395.61,234.20 403.40,234.10 C411.17,234.00 418.93,233.98 426.70,234.10 C434.49,234.22 442.30,234.42 450.10,234.80 C457.90,235.18 465.72,235.77 473.50,236.40 C481.25,237.03 488.95,237.98 496.70,238.60 C504.48,239.22 512.38,239.82 520.10,240.10 C527.64,240.38 539.38,239.55 542.50,240.30 C543.38,240.51 543.54,241.14 544.10,241.10 C544.77,241.05 545.35,239.84 546.20,239.60 C547.24,239.31 548.40,239.82 550.00,239.90 C552.75,240.03 556.88,240.14 561.20,240.10 C567.13,240.04 575.26,239.70 582.30,239.30 C589.36,238.90 596.43,238.25 603.50,237.70 C610.57,237.15 617.63,236.47 624.70,236.00 C631.76,235.53 638.84,235.18 645.90,234.90 C652.94,234.62 661.03,234.44 667.00,234.30 C671.41,234.20 674.67,234.17 678.50,234.10" fill="none" stroke="#00f" stroke-width="1.80" stroke-linejoin="round" stroke-linecap="round"/>
<path d="M45.20,342.00 C45.40,329.90 45.56,316.11 45.80,305.70 C45.98,297.84 46.16,292.02 46.40,285.00 C46.65,277.73 46.93,270.13 47.30,262.80 C47.66,255.60 48.17,247.70 48.60,241.40 C48.94,236.41 49.21,231.66 49.60,228.00 C49.87,225.44 49.89,222.86 50.50,221.50 C50.84,220.75 51.35,220.24 51.80,220.00 C52.12,219.83 52.43,219.83 52.80,219.90 C53.31,220.00 53.98,220.39 54.50,220.80 C55.06,221.24 55.43,221.87 56.00,222.50 C56.72,223.30 57.67,224.30 58.50,225.20 C58.77,223.97 58.98,222.35 59.30,221.50 C59.48,221.01 59.65,220.44 59.90,220.40 C60.15,220.36 60.48,220.82 60.80,221.20 C61.32,221.81 62.01,223.06 62.50,223.90 C62.92,224.61 63.06,225.17 63.60,225.90 C64.43,227.02 66.02,228.62 67.30,229.70 C68.46,230.68 69.67,231.46 70.90,232.20 C72.10,232.92 73.13,233.48 74.60,234.10 C76.60,234.95 79.45,235.88 81.90,236.60 C84.32,237.31 86.76,237.87 89.20,238.40 C91.63,238.93 94.06,239.43 96.50,239.80 C98.93,240.16 101.47,240.36 103.80,240.60 C105.95,240.82 107.41,240.96 110.00,241.20 C114.37,241.60 121.76,242.30 127.60,242.70 C133.39,243.10 139.13,243.30 144.90,243.60 L145.70,251.00 C146.00,251.13 146.26,251.44 146.60,251.40 C147.11,251.35 147.65,250.39 148.40,250.10 C149.38,249.73 150.62,249.82 152.10,249.70 C154.31,249.51 157.08,249.51 160.40,249.20 C165.41,248.73 172.68,247.69 179.20,246.80 C186.27,245.84 194.09,244.74 201.30,243.60 C208.24,242.50 214.88,241.15 221.70,240.10 C228.52,239.05 235.37,238.08 242.20,237.30 C249.00,236.52 256.07,235.91 262.60,235.40 C268.63,234.93 273.97,234.67 280.00,234.30 C286.53,233.90 293.59,233.43 300.40,233.10 C307.22,232.77 315.11,232.47 320.90,232.30 C325.16,232.18 328.24,232.13 332.00,232.10 C335.90,232.06 339.93,232.10 343.90,232.10 L344.60,225.40 C344.90,225.10 345.17,224.55 345.50,224.50 C345.81,224.45 346.15,224.80 346.50,225.00 C346.91,225.23 347.15,225.62 347.80,225.80 C349.20,226.20 352.64,225.82 355.00,225.80 C357.27,225.78 358.92,225.71 361.70,225.70 C366.30,225.69 373.53,225.71 380.00,225.90 C387.32,226.11 395.62,226.43 403.40,227.00 C411.18,227.57 418.94,228.32 426.70,229.30 C434.51,230.28 442.29,231.80 450.10,232.90 C457.89,234.00 465.73,234.73 473.50,235.90 C481.26,237.07 488.93,238.80 496.70,239.90 C504.47,241.00 512.35,241.90 520.10,242.50 C527.71,243.09 535.23,243.17 542.80,243.50 L543.60,251.00 C543.93,251.17 544.22,251.53 544.60,251.50 C545.18,251.45 545.78,250.33 546.70,250.00 C548.02,249.52 549.99,249.71 552.00,249.60 C554.65,249.46 557.51,249.46 561.20,249.30 C566.80,249.06 575.27,248.81 582.30,248.20 C589.37,247.58 596.45,246.65 603.50,245.60 C610.58,244.55 617.63,243.15 624.70,241.90 C631.77,240.65 638.83,239.17 645.90,238.10 C652.93,237.04 661.03,236.23 667.00,235.50 C671.41,234.96 674.67,234.57 678.50,234.10" fill="none" stroke="#f00" stroke-width="1.80" stroke-linejoin="round" stroke-linecap="round"/>
<ellipse cx="57.1" cy="223.3" rx="12.0" ry="13.8" fill="none" stroke="#000" stroke-width="0.7"/>
<ellipse cx="146.2" cy="242.2" rx="22.1" ry="17.3" fill="none" stroke="#000" stroke-width="0.7"/>
<ellipse cx="347.6" cy="230.0" rx="14.7" ry="11.5" fill="none" stroke="#000" stroke-width="0.7"/>
<line x1="66.3" y1="245.9" x2="88.5" y2="282.2" stroke="#000" stroke-width="0.7"/>
<polygon points="92.2,288.3 83.8,282.3 88.5,282.2 90.7,278.1" fill="#000"/>
<line x1="169.9" y1="267.8" x2="213.0" y2="285.6" stroke="#000" stroke-width="0.7"/>
<polygon points="219.6,288.3 209.3,288.4 213.0,285.6 212.3,281.0" fill="#000"/>
<line x1="361.2" y1="247.4" x2="387.3" y2="267.0" stroke="#000" stroke-width="0.7"/>
<polygon points="393.0,271.3 383.0,268.8 387.3,267.0 387.8,262.4" fill="#000"/>
<rect x="77.4" y="288.4" width="63.2" height="61.8" fill="#fff" stroke="#262626" stroke-width="1.1"/>
<clipPath id="c235"><rect x="77.4" y="288.4" width="63.2" height="61.8"/></clipPath>
<g clip-path="url(#c235)">
<path d="M114.10,334.60 L114.60,312.50 C115.17,312.20 115.74,311.45 116.30,311.60 C117.21,311.84 118.00,314.18 119.00,315.80 C120.33,317.97 121.98,321.04 123.50,323.50 C124.94,325.83 126.24,328.13 127.90,330.20 C129.55,332.26 131.37,334.09 133.40,335.90 C135.57,337.84 138.20,339.57 140.60,341.40" fill="none" stroke="#000" stroke-width="1.80" stroke-linejoin="round" stroke-linecap="round"/>
<path d="M83.90,351.00 C84.57,344.07 85.15,336.74 85.90,330.20 C86.57,324.35 87.07,318.22 88.10,313.60 C88.87,310.17 89.77,307.00 90.90,304.80 C91.67,303.29 92.56,302.16 93.50,301.30 C94.25,300.60 95.05,299.94 95.90,299.80 C96.72,299.66 97.65,300.00 98.50,300.40 C99.49,300.86 100.30,301.57 101.40,302.60 C103.23,304.33 105.89,307.64 108.00,310.30 C110.13,312.98 112.68,316.94 114.10,318.60 C114.77,319.38 115.07,319.45 115.70,320.20 C116.88,321.62 118.62,324.51 120.20,326.80 C121.93,329.30 123.54,332.23 125.70,334.60 C127.92,337.04 130.80,339.31 133.40,341.20 C135.77,342.92 138.20,344.13 140.60,345.60" fill="none" stroke="#00f" stroke-width="1.80" stroke-linejoin="round" stroke-linecap="round"/>
<path d="M85.10,351.00 C85.73,344.07 86.01,336.02 87.00,330.20 C87.74,325.89 88.56,321.77 89.80,319.10 C90.60,317.37 91.48,316.09 92.60,315.20 C93.56,314.43 94.86,313.85 95.90,313.80 C96.81,313.75 97.67,314.10 98.50,314.60 C99.52,315.21 100.28,316.25 101.40,317.50 C103.20,319.50 105.90,322.87 108.00,325.70 C110.13,328.57 112.07,331.63 114.10,334.60 C114.63,330.53 115.06,325.92 115.70,322.40 C116.20,319.67 116.52,316.49 117.40,315.20 C117.85,314.54 118.43,313.99 119.00,314.10 C120.01,314.29 121.26,317.15 122.40,319.10 C123.86,321.60 124.98,325.25 126.80,328.00 C128.64,330.78 131.03,333.46 133.40,335.70 C135.64,337.82 138.20,339.37 140.60,341.20" fill="none" stroke="#f00" stroke-width="1.80" stroke-linejoin="round" stroke-linecap="round"/>
</g>
<line x1="77.4" y1="297.0" x2="79.2" y2="297.0" stroke="#262626" stroke-width="0.8"/>
<line x1="140.6" y1="297.0" x2="138.8" y2="297.0" stroke="#262626" stroke-width="0.8"/>
<line x1="77.4" y1="319.4" x2="79.2" y2="319.4" stroke="#262626" stroke-width="0.8"/>
<line x1="140.6" y1="319.4" x2="138.8" y2="319.4" stroke="#262626" stroke-width="0.8"/>
<line x1="77.4" y1="342.3" x2="79.2" y2="342.3" stroke="#262626" stroke-width="0.8"/>
<line x1="140.6" y1="342.3" x2="138.8" y2="342.3" stroke="#262626" stroke-width="0.8"/>
<line x1="92.6" y1="288.4" x2="92.6" y2="290.2" stroke="#262626" stroke-width="0.8"/>
<line x1="92.6" y1="350.2" x2="92.6" y2="348.4" stroke="#262626" stroke-width="0.8"/>
<line x1="113.5" y1="288.4" x2="113.5" y2="290.2" stroke="#262626" stroke-width="0.8"/>
<line x1="113.5" y1="350.2" x2="113.5" y2="348.4" stroke="#262626" stroke-width="0.8"/>
<line x1="132.8" y1="288.4" x2="132.8" y2="290.2" stroke="#262626" stroke-width="0.8"/>
<line x1="132.8" y1="350.2" x2="132.8" y2="348.4" stroke="#262626" stroke-width="0.8"/>
<text x="73.2" y="300.7" text-anchor="end" style='font-family:"Liberation Sans",sans-serif;font-size:10px;letter-spacing:0.85px;fill:#262626;stroke:#262626;stroke-width:0.25px'>80</text>
<text x="73.2" y="323.3" text-anchor="end" style='font-family:"Liberation Sans",sans-serif;font-size:10px;letter-spacing:0.85px;fill:#262626;stroke:#262626;stroke-width:0.25px'>60</text>
<text x="73.2" y="346.4" text-anchor="end" style='font-family:"Liberation Sans",sans-serif;font-size:10px;letter-spacing:0.85px;fill:#262626;stroke:#262626;stroke-width:0.25px'>40</text>
<text x="92.4" y="367.1" text-anchor="middle" style='font-family:"Liberation Mono",monospace;font-size:10.4px;fill:#262626'>0.1</text>
<text x="111.8" y="367.1" text-anchor="middle" style='font-family:"Liberation Mono",monospace;font-size:10.4px;fill:#262626'>0.2</text>
<text x="132.7" y="367.1" text-anchor="middle" style='font-family:"Liberation Mono",monospace;font-size:10.4px;fill:#262626'>0.3</text>
<rect x="235.7" y="272.5" width="78.8" height="77.5" fill="#fff" stroke="#262626" stroke-width="1.1"/>
<clipPath id="c260"><rect x="235.7" y="272.5" width="78.8" height="77.5"/></clipPath>
<g clip-path="url(#c260)">
<path d="M270.70,301.80 C270.93,303.20 271.21,304.02 271.40,306.00 C271.85,310.65 271.55,324.78 272.10,329.50 C272.34,331.56 272.47,333.71 273.00,333.90 C273.30,334.01 273.72,333.43 274.10,333.00 C274.70,332.32 275.30,330.85 276.00,330.00 C276.62,329.25 277.29,328.22 278.00,328.10 C278.63,327.99 279.11,328.77 280.00,329.00 C281.54,329.39 284.40,329.33 286.60,329.50" fill="none" stroke="#000" stroke-width="1.80" stroke-linejoin="round" stroke-linecap="round"/>
<path d="M235.70,284.50 C239.73,284.83 243.63,285.12 247.80,285.50 C252.27,285.91 257.62,286.60 261.70,286.90 C264.91,287.14 268.58,286.54 270.30,287.30 C271.24,287.71 271.63,288.38 272.10,289.10 C272.62,289.89 272.79,291.90 273.20,291.90 C273.68,291.90 274.05,289.13 274.80,288.00 C275.53,286.91 276.48,285.50 277.60,285.20 C278.76,284.89 280.27,285.96 281.70,286.30 C283.26,286.67 284.68,287.21 286.60,287.30 C289.28,287.43 293.07,286.65 296.30,286.30 C299.53,285.95 302.87,285.58 306.00,285.20 C308.93,284.84 311.67,284.47 314.50,284.10" fill="none" stroke="#00f" stroke-width="1.80" stroke-linejoin="round" stroke-linecap="round"/>
<path d="M235.70,297.70 C239.73,298.23 243.63,298.75 247.80,299.30 C252.27,299.89 257.56,300.67 261.70,301.10 C265.02,301.44 267.70,301.57 270.70,301.80 C271.00,305.03 271.33,307.83 271.60,311.50 C271.95,316.29 272.10,323.77 272.50,328.10 C272.76,330.90 272.95,333.29 273.40,335.00 C273.68,336.06 274.05,337.49 274.40,337.50 C274.75,337.51 275.08,335.99 275.50,335.00 C276.10,333.58 276.64,330.66 277.60,329.80 C278.20,329.26 278.79,329.31 279.70,329.20 C281.32,329.01 284.11,329.54 286.60,329.50 C289.56,329.46 293.08,329.26 296.30,328.80 C299.55,328.33 302.88,327.41 306.00,326.70 C308.93,326.04 311.67,325.37 314.50,324.70" fill="none" stroke="#f00" stroke-width="1.80" stroke-linejoin="round" stroke-linecap="round"/>
</g>
<line x1="235.7" y1="287.7" x2="237.5" y2="287.7" stroke="#262626" stroke-width="0.8"/>
<line x1="314.5" y1="287.7" x2="312.7" y2="287.7" stroke="#262626" stroke-width="0.8"/>
<line x1="235.7" y1="317.1" x2="237.5" y2="317.1" stroke="#262626" stroke-width="0.8"/>
<line x1="314.5" y1="317.1" x2="312.7" y2="317.1" stroke="#262626" stroke-width="0.8"/>
<line x1="235.7" y1="345.8" x2="237.5" y2="345.8" stroke="#262626" stroke-width="0.8"/>
<line x1="314.5" y1="345.8" x2="312.7" y2="345.8" stroke="#262626" stroke-width="0.8"/>
<line x1="264.4" y1="272.5" x2="264.4" y2="274.3" stroke="#262626" stroke-width="0.8"/>
<line x1="264.4" y1="350.0" x2="264.4" y2="348.2" stroke="#262626" stroke-width="0.8"/>
<line x1="299.0" y1="272.5" x2="299.0" y2="274.3" stroke="#262626" stroke-width="0.8"/>
<line x1="299.0" y1="350.0" x2="299.0" y2="348.2" stroke="#262626" stroke-width="0.8"/>
<text x="231.2" y="292.2" text-anchor="end" style='font-family:"Liberation Sans",sans-serif;font-size:10px;letter-spacing:0.85px;fill:#262626;stroke:#262626;stroke-width:0.25px'>0</text>
<text x="231.2" y="320.7" text-anchor="end" style='font-family:"Liberation Sans",sans-serif;font-size:10px;letter-spacing:0.85px;fill:#262626;stroke:#262626;stroke-width:0.25px'>&#8722;20</text>
<text x="231.2" y="350.1" text-anchor="end" style='font-family:"Liberation Sans",sans-serif;font-size:10px;letter-spacing:0.85px;fill:#262626;stroke:#262626;stroke-width:0.25px'>&#8722;40</text>
<text x="264.5" y="366.7" text-anchor="middle" style='font-family:"Liberation Mono",monospace;font-size:10.4px;fill:#262626'>1.5</text>
<text x="313.5" y="366.7" text-anchor="middle" style='font-family:"Liberation Mono",monospace;font-size:10.4px;fill:#262626'>2</text>
<rect x="410.0" y="272.5" width="78.6" height="77.5" fill="#fff" stroke="#262626" stroke-width="1.1"/>
<clipPath id="c282"><rect x="410.0" y="272.5" width="78.6" height="77.5"/></clipPath>
<g clip-path="url(#c282)">
<path d="M444.30,319.80 C444.53,317.03 444.81,314.80 445.00,311.50 C445.29,306.65 445.10,297.00 445.60,293.50 C445.81,292.02 445.99,291.03 446.40,290.40 C446.65,290.02 447.01,289.63 447.30,289.70 C447.77,289.81 448.11,291.52 448.60,292.50 C449.16,293.61 449.69,295.57 450.50,296.00 C451.08,296.31 451.75,295.96 452.50,295.80 C453.52,295.58 454.78,294.85 456.00,294.60 C457.27,294.34 458.67,294.40 460.00,294.30" fill="none" stroke="#000" stroke-width="1.80" stroke-linejoin="round" stroke-linecap="round"/>
<path d="M410.00,332.30 C415.93,332.53 422.43,332.78 427.80,333.00 C432.25,333.18 436.81,333.37 440.00,333.50 C442.06,333.58 444.09,334.35 445.10,333.70 C445.86,333.21 445.82,331.76 446.20,331.00 C446.49,330.41 446.79,329.49 447.10,329.50 C447.45,329.51 447.85,330.81 448.20,331.50 C448.56,332.21 448.70,333.08 449.20,333.70 C449.72,334.35 450.56,335.19 451.30,335.30 C452.00,335.41 452.67,334.74 453.50,334.50 C454.52,334.20 455.47,333.92 457.00,333.70 C459.84,333.30 464.74,333.33 469.30,333.00 C475.01,332.59 482.17,331.87 488.60,331.30" fill="none" stroke="#00f" stroke-width="1.80" stroke-linejoin="round" stroke-linecap="round"/>
<path d="M410.00,321.50 C415.93,321.23 421.95,320.99 427.80,320.70 C433.48,320.42 439.00,320.10 444.60,319.80 C444.83,317.03 445.11,314.80 445.30,311.50 C445.59,306.65 445.46,297.37 445.90,293.50 C446.11,291.64 446.32,290.43 446.70,289.40 C446.95,288.72 447.30,287.79 447.60,287.80 C447.93,287.81 448.27,289.00 448.60,289.80 C449.07,290.93 449.36,293.00 450.00,294.00 C450.45,294.70 450.96,295.35 451.60,295.50 C452.28,295.66 453.01,294.98 454.00,294.80 C455.54,294.51 457.78,294.37 460.00,294.30 C462.76,294.21 466.17,294.35 469.30,294.50 C472.50,294.65 475.78,294.97 479.00,295.20 C482.21,295.43 485.40,295.67 488.60,295.90" fill="none" stroke="#f00" stroke-width="1.80" stroke-linejoin="round" stroke-linecap="round"/>
</g>
<line x1="410.0" y1="276.6" x2="411.8" y2="276.6" stroke="#262626" stroke-width="0.8"/>
<line x1="488.6" y1="276.6" x2="486.8" y2="276.6" stroke="#262626" stroke-width="0.8"/>
<line x1="410.0" y1="302.5" x2="411.8" y2="302.5" stroke="#262626" stroke-width="0.8"/>
<line x1="488.6" y1="302.5" x2="486.8" y2="302.5" stroke="#262626" stroke-width="0.8"/>
<line x1="410.0" y1="328.1" x2="411.8" y2="328.1" stroke="#262626" stroke-width="0.8"/>
<line x1="488.6" y1="328.1" x2="486.8" y2="328.1" stroke="#262626" stroke-width="0.8"/>
<line x1="427.8" y1="272.5" x2="427.8" y2="274.3" stroke="#262626" stroke-width="0.8"/>
<line x1="427.8" y1="350.0" x2="427.8" y2="348.2" stroke="#262626" stroke-width="0.8"/>
<line x1="448.5" y1="272.5" x2="448.5" y2="274.3" stroke="#262626" stroke-width="0.8"/>
<line x1="448.5" y1="350.0" x2="448.5" y2="348.2" stroke="#262626" stroke-width="0.8"/>
<line x1="469.3" y1="272.5" x2="469.3" y2="274.3" stroke="#262626" stroke-width="0.8"/>
<line x1="469.3" y1="350.0" x2="469.3" y2="348.2" stroke="#262626" stroke-width="0.8"/>
<text x="405.0" y="281.2" text-anchor="end" style='font-family:"Liberation Sans",sans-serif;font-size:10px;letter-spacing:0.85px;fill:#262626;stroke:#262626;stroke-width:0.25px'>60</text>
<text x="405.0" y="306.9" text-anchor="end" style='font-family:"Liberation Sans",sans-serif;font-size:10px;letter-spacing:0.85px;fill:#262626;stroke:#262626;stroke-width:0.25px'>40</text>
<text x="405.0" y="332.8" text-anchor="end" style='font-family:"Liberation Sans",sans-serif;font-size:10px;letter-spacing:0.85px;fill:#262626;stroke:#262626;stroke-width:0.25px'>20</text>
<text x="428.4" y="367.1" text-anchor="middle" style='font-family:"Liberation Mono",monospace;font-size:10.4px;fill:#262626'>4.5</text>
<text x="469.2" y="367.1" text-anchor="middle" style='font-family:"Liberation Mono",monospace;font-size:10.4px;fill:#262626'>5</text>
<rect x="505.3" y="320.5" width="171.4" height="42.9" fill="#fff" stroke="#262626" stroke-width="1"/>
<line x1="507.5" y1="328.1" x2="538.8" y2="328.1" stroke="#000" stroke-width="1.6"/>
<text x="541.6" y="332.1" style='font-family:"Liberation Mono",monospace;font-size:9.5px;font-weight:bold;fill:#000'>Ideal value</text>
<line x1="507.5" y1="341.8" x2="538.8" y2="341.8" stroke="#00f" stroke-width="1.6"/>
<text x="541.6" y="345.8" style='font-family:"Liberation Mono",monospace;font-size:9.5px;font-weight:bold;fill:#000'>Value before correction</text>
<line x1="507.5" y1="355.5" x2="538.8" y2="355.5" stroke="#f00" stroke-width="1.6"/>
<text x="541.6" y="359.5" style='font-family:"Liberation Mono",monospace;font-size:9.5px;font-weight:bold;fill:#000'>Corrected value</text>
<rect x="45.9" y="415.4" width="632.7" height="157.4" fill="none" stroke="#262626" stroke-width="1.1"/>
<line x1="45.9" y1="415.4" x2="52.2" y2="415.4" stroke="#262626" stroke-width="1"/>
<line x1="678.6" y1="415.4" x2="672.3" y2="415.4" stroke="#262626" stroke-width="1"/>
<text x="41.2" y="419.2" text-anchor="end" style='font-family:"Liberation Sans",sans-serif;font-size:10px;letter-spacing:0.85px;fill:#262626;stroke:#262626;stroke-width:0.25px'>100</text>
<line x1="45.9" y1="454.8" x2="52.2" y2="454.8" stroke="#262626" stroke-width="1"/>
<line x1="678.6" y1="454.8" x2="672.3" y2="454.8" stroke="#262626" stroke-width="1"/>
<text x="41.2" y="458.6" text-anchor="end" style='font-family:"Liberation Sans",sans-serif;font-size:10px;letter-spacing:0.85px;fill:#262626;stroke:#262626;stroke-width:0.25px'>0</text>
<line x1="45.9" y1="494.1" x2="52.2" y2="494.1" stroke="#262626" stroke-width="1"/>
<line x1="678.6" y1="494.1" x2="672.3" y2="494.1" stroke="#262626" stroke-width="1"/>
<text x="41.2" y="497.9" text-anchor="end" style='font-family:"Liberation Sans",sans-serif;font-size:10px;letter-spacing:0.85px;fill:#262626;stroke:#262626;stroke-width:0.25px'>&#8722;100</text>
<line x1="45.9" y1="533.4" x2="52.2" y2="533.4" stroke="#262626" stroke-width="1"/>
<line x1="678.6" y1="533.4" x2="672.3" y2="533.4" stroke="#262626" stroke-width="1"/>
<text x="41.2" y="537.2" text-anchor="end" style='font-family:"Liberation Sans",sans-serif;font-size:10px;letter-spacing:0.85px;fill:#262626;stroke:#262626;stroke-width:0.25px'>&#8722;200</text>
<line x1="45.9" y1="572.8" x2="52.2" y2="572.8" stroke="#262626" stroke-width="1"/>
<line x1="678.6" y1="572.8" x2="672.3" y2="572.8" stroke="#262626" stroke-width="1"/>
<text x="41.2" y="576.6" text-anchor="end" style='font-family:"Liberation Sans",sans-serif;font-size:10px;letter-spacing:0.85px;fill:#262626;stroke:#262626;stroke-width:0.25px'>&#8722;300</text>
<line x1="45.9" y1="415.4" x2="45.9" y2="421.7" stroke="#262626" stroke-width="1"/>
<line x1="45.9" y1="572.8" x2="45.9" y2="566.5" stroke="#262626" stroke-width="1"/>
<text x="46.2" y="589.2" text-anchor="middle" style='font-family:"Liberation Sans",sans-serif;font-size:10px;letter-spacing:0.85px;fill:#262626;stroke:#262626;stroke-width:0.25px'>0</text>
<line x1="109.2" y1="415.4" x2="109.2" y2="421.7" stroke="#262626" stroke-width="1"/>
<line x1="109.2" y1="572.8" x2="109.2" y2="566.5" stroke="#262626" stroke-width="1"/>
<text x="109.5" y="589.2" text-anchor="middle" style='font-family:"Liberation Sans",sans-serif;font-size:10px;letter-spacing:0.85px;fill:#262626;stroke:#262626;stroke-width:0.25px'>1</text>
<line x1="172.4" y1="415.4" x2="172.4" y2="421.7" stroke="#262626" stroke-width="1"/>
<line x1="172.4" y1="572.8" x2="172.4" y2="566.5" stroke="#262626" stroke-width="1"/>
<text x="172.7" y="589.2" text-anchor="middle" style='font-family:"Liberation Sans",sans-serif;font-size:10px;letter-spacing:0.85px;fill:#262626;stroke:#262626;stroke-width:0.25px'>2</text>
<line x1="235.7" y1="415.4" x2="235.7" y2="421.7" stroke="#262626" stroke-width="1"/>
<line x1="235.7" y1="572.8" x2="235.7" y2="566.5" stroke="#262626" stroke-width="1"/>
<text x="236.0" y="589.2" text-anchor="middle" style='font-family:"Liberation Sans",sans-serif;font-size:10px;letter-spacing:0.85px;fill:#262626;stroke:#262626;stroke-width:0.25px'>3</text>
<line x1="299.0" y1="415.4" x2="299.0" y2="421.7" stroke="#262626" stroke-width="1"/>
<line x1="299.0" y1="572.8" x2="299.0" y2="566.5" stroke="#262626" stroke-width="1"/>
<text x="299.3" y="589.2" text-anchor="middle" style='font-family:"Liberation Sans",sans-serif;font-size:10px;letter-spacing:0.85px;fill:#262626;stroke:#262626;stroke-width:0.25px'>4</text>
<line x1="362.2" y1="415.4" x2="362.2" y2="421.7" stroke="#262626" stroke-width="1"/>
<line x1="362.2" y1="572.8" x2="362.2" y2="566.5" stroke="#262626" stroke-width="1"/>
<text x="362.6" y="589.2" text-anchor="middle" style='font-family:"Liberation Sans",sans-serif;font-size:10px;letter-spacing:0.85px;fill:#262626;stroke:#262626;stroke-width:0.25px'>5</text>
<line x1="425.5" y1="415.4" x2="425.5" y2="421.7" stroke="#262626" stroke-width="1"/>
<line x1="425.5" y1="572.8" x2="425.5" y2="566.5" stroke="#262626" stroke-width="1"/>
<text x="425.8" y="589.2" text-anchor="middle" style='font-family:"Liberation Sans",sans-serif;font-size:10px;letter-spacing:0.85px;fill:#262626;stroke:#262626;stroke-width:0.25px'>6</text>
<line x1="488.8" y1="415.4" x2="488.8" y2="421.7" stroke="#262626" stroke-width="1"/>
<line x1="488.8" y1="572.8" x2="488.8" y2="566.5" stroke="#262626" stroke-width="1"/>
<text x="489.1" y="589.2" text-anchor="middle" style='font-family:"Liberation Sans",sans-serif;font-size:10px;letter-spacing:0.85px;fill:#262626;stroke:#262626;stroke-width:0.25px'>7</text>
<line x1="552.1" y1="415.4" x2="552.1" y2="421.7" stroke="#262626" stroke-width="1"/>
<line x1="552.1" y1="572.8" x2="552.1" y2="566.5" stroke="#262626" stroke-width="1"/>
<text x="552.4" y="589.2" text-anchor="middle" style='font-family:"Liberation Sans",sans-serif;font-size:10px;letter-spacing:0.85px;fill:#262626;stroke:#262626;stroke-width:0.25px'>8</text>
<line x1="615.3" y1="415.4" x2="615.3" y2="421.7" stroke="#262626" stroke-width="1"/>
<line x1="615.3" y1="572.8" x2="615.3" y2="566.5" stroke="#262626" stroke-width="1"/>
<text x="615.6" y="589.2" text-anchor="middle" style='font-family:"Liberation Sans",sans-serif;font-size:10px;letter-spacing:0.85px;fill:#262626;stroke:#262626;stroke-width:0.25px'>9</text>
<line x1="678.6" y1="415.4" x2="678.6" y2="421.7" stroke="#262626" stroke-width="1"/>
<line x1="678.6" y1="572.8" x2="678.6" y2="566.5" stroke="#262626" stroke-width="1"/>
<text x="678.9" y="589.2" text-anchor="middle" style='font-family:"Liberation Sans",sans-serif;font-size:10px;letter-spacing:0.85px;fill:#262626;stroke:#262626;stroke-width:0.25px'>10</text>
<text transform="translate(9.0,494.8) rotate(-90)" text-anchor="middle" style='font-family:"Liberation Mono",monospace;font-size:11.7px;font-weight:bold;fill:#262626'>Output torque 3/(N&#183;m)</text>
<text x="362.2" y="605.7" text-anchor="middle" style='font-family:"Liberation Mono",monospace;font-size:11.7px;font-weight:bold;fill:#262626'>Time/s</text>
<path d="M44.80,548.50 C44.93,542.33 44.96,537.38 45.20,530.00 C45.56,519.02 46.40,502.67 47.00,489.00" fill="none" stroke="#000" stroke-width="1.80" stroke-linejoin="round" stroke-linecap="round"/>
<path d="M144.50,457.00 L145.30,465.80 C145.57,465.93 145.81,466.24 146.10,466.20 C146.52,466.15 147.03,465.40 147.50,465.00" fill="none" stroke="#000" stroke-width="1.80" stroke-linejoin="round" stroke-linecap="round"/>
<path d="M343.80,452.20 L344.40,444.00 C344.67,443.60 344.90,442.84 345.20,442.80 C345.47,442.76 345.81,443.29 346.10,443.60 C346.44,443.97 346.77,444.47 347.10,444.90" fill="none" stroke="#000" stroke-width="1.80" stroke-linejoin="round" stroke-linecap="round"/>
<path d="M543.00,456.90 L543.70,465.80 C543.97,465.90 544.19,466.14 544.50,466.10 C545.00,466.03 545.70,465.23 546.30,464.80" fill="none" stroke="#000" stroke-width="1.80" stroke-linejoin="round" stroke-linecap="round"/>
<path d="M46.30,500.00 C46.53,493.33 46.73,486.19 47.00,480.00 C47.24,474.64 47.55,469.49 47.80,465.00 C48.01,461.33 48.17,458.33 48.40,455.00 C48.63,451.67 48.79,447.73 49.20,445.00 C49.49,443.07 49.81,441.36 50.30,440.10 C50.64,439.22 50.96,438.43 51.50,438.00 C51.96,437.63 52.64,437.44 53.20,437.50 C53.81,437.57 54.37,438.05 55.00,438.50 C55.84,439.10 56.87,440.03 57.70,440.90 C58.53,441.77 59.07,442.89 60.00,443.70 C61.01,444.58 62.39,445.17 63.60,445.90 C64.82,446.64 66.06,447.42 67.30,448.10 C68.50,448.75 69.68,449.38 70.90,449.90 C72.11,450.41 73.15,450.75 74.60,451.20 C76.61,451.83 79.46,452.63 81.90,453.20 C84.32,453.76 86.76,454.22 89.20,454.60 C91.63,454.98 94.06,455.28 96.50,455.50 C98.93,455.72 101.46,455.80 103.80,455.90 C105.98,455.99 107.41,456.02 110.10,456.10 C114.88,456.25 123.82,456.55 130.00,456.70 C135.38,456.83 142.75,456.98 145.10,457.00 C145.82,457.01 145.79,457.01 146.50,457.00 C148.73,456.98 155.42,456.93 160.40,456.80 C166.20,456.65 172.25,456.41 179.20,456.10 C187.87,455.72 198.66,455.00 208.40,454.60 C218.13,454.20 227.87,453.95 237.60,453.70 C247.33,453.45 257.07,453.27 266.80,453.10 C276.53,452.93 286.27,452.82 296.00,452.70 C305.73,452.58 316.47,452.49 325.20,452.40 C332.30,452.33 341.85,452.32 344.50,452.20 C345.19,452.17 345.38,452.02 345.80,452.10 C346.24,452.18 346.51,452.58 347.10,452.70 C348.19,452.92 350.09,452.54 352.00,452.50 C354.69,452.45 357.96,452.51 361.70,452.50 C366.84,452.49 373.53,452.39 380.00,452.40 C387.32,452.41 395.61,452.48 403.40,452.60 C411.18,452.72 418.93,452.87 426.70,453.10 C434.49,453.33 442.30,453.65 450.10,454.00 C457.90,454.35 465.72,454.85 473.50,455.20 C481.25,455.55 488.95,455.85 496.70,456.10 C504.48,456.35 512.30,456.55 520.10,456.70 C527.90,456.85 540.95,456.57 543.50,457.00 C544.01,457.09 544.06,457.33 544.40,457.30 C544.88,457.26 545.33,456.56 546.10,456.40 C547.45,456.11 549.81,456.76 552.00,456.80 C554.73,456.85 557.51,456.61 561.20,456.50 C566.79,456.33 575.26,456.12 582.30,455.90 C589.36,455.68 596.43,455.45 603.50,455.20 C610.57,454.95 617.63,454.63 624.70,454.40 C631.77,454.17 638.84,454.02 645.90,453.80 C652.94,453.58 661.03,453.30 667.00,453.10 C671.41,452.95 674.67,452.83 678.50,452.70" fill="none" stroke="#00f" stroke-width="1.80" stroke-linejoin="round" stroke-linecap="round"/>
<path d="M44.80,546.00 C44.93,540.67 44.97,536.56 45.20,530.00 C45.56,519.49 46.35,501.37 47.00,489.00 C47.53,478.78 48.17,468.47 48.70,461.00 C49.05,456.00 49.18,451.65 49.70,448.50 C50.03,446.54 50.38,444.90 50.90,443.80 C51.22,443.12 51.56,442.57 52.00,442.30 C52.35,442.08 52.75,441.97 53.20,442.10 C53.98,442.32 55.13,443.73 56.00,444.50 C56.78,445.19 57.47,445.83 58.20,446.50 C58.50,444.33 58.69,441.39 59.10,440.00 C59.31,439.30 59.55,438.52 59.80,438.50 C60.02,438.48 60.27,439.07 60.50,439.50 C60.85,440.16 60.97,441.45 61.50,442.20 C62.02,442.94 62.77,443.41 63.60,444.00 C64.63,444.74 66.07,445.51 67.30,446.20 C68.50,446.87 69.67,447.55 70.90,448.10 C72.11,448.64 73.15,449.01 74.60,449.50 C76.61,450.18 79.45,451.06 81.90,451.70 C84.32,452.33 86.76,452.83 89.20,453.30 C91.63,453.77 94.06,454.18 96.50,454.50 C98.93,454.82 101.45,455.03 103.80,455.20 C105.98,455.36 107.41,455.36 110.10,455.50 C114.88,455.75 123.83,456.35 130.00,456.60 C135.35,456.82 140.00,456.87 145.00,457.00 L145.80,465.80 C146.07,465.93 146.31,466.24 146.60,466.20 C147.02,466.15 147.29,465.29 148.00,465.00 C149.39,464.44 152.82,464.70 155.00,464.60 C156.92,464.51 158.06,464.51 160.40,464.40 C164.77,464.20 172.25,463.87 179.20,463.40 C187.87,462.81 198.67,461.88 208.40,461.00 C218.14,460.12 227.86,458.92 237.60,458.10 C247.33,457.28 257.07,456.82 266.80,456.10 C276.54,455.38 286.26,454.42 296.00,453.80 C305.73,453.18 316.56,452.65 325.20,452.40 C332.09,452.20 337.60,452.27 343.80,452.20 L344.40,444.00 C344.67,443.60 344.90,442.84 345.20,442.80 C345.47,442.76 345.81,443.29 346.10,443.60 C346.44,443.97 346.54,444.65 347.10,444.90 C348.06,445.34 350.09,444.65 352.00,444.60 C354.69,444.53 357.96,444.62 361.70,444.70 C366.84,444.81 373.53,444.96 380.00,445.30 C387.32,445.69 395.61,446.47 403.40,447.00 C411.17,447.53 418.93,447.90 426.70,448.50 C434.50,449.10 442.31,449.78 450.10,450.60 C457.91,451.42 465.71,452.60 473.50,453.40 C481.24,454.20 488.95,454.88 496.70,455.40 C504.48,455.92 512.30,456.25 520.10,456.50 C527.90,456.75 535.70,456.77 543.50,456.90 L544.20,465.80 C544.47,465.90 544.72,466.16 545.00,466.10 C545.41,466.01 545.63,465.09 546.30,464.80 C547.47,464.29 549.87,464.67 552.00,464.60 C554.70,464.51 557.51,464.45 561.20,464.30 C566.80,464.08 575.26,463.81 582.30,463.30 C589.36,462.78 596.43,461.90 603.50,461.20 C610.57,460.50 617.63,459.82 624.70,459.10 C631.77,458.38 638.84,457.55 645.90,456.90 C652.94,456.25 661.02,455.65 667.00,455.20 C671.41,454.87 674.67,454.67 678.50,454.40" fill="none" stroke="#f00" stroke-width="1.80" stroke-linejoin="round" stroke-linecap="round"/>
<ellipse cx="59.6" cy="442.5" rx="14.3" ry="11.9" fill="none" stroke="#000" stroke-width="0.7"/>
<ellipse cx="141.3" cy="460.9" rx="17.3" ry="14.4" fill="none" stroke="#000" stroke-width="0.7"/>
<ellipse cx="345.3" cy="451.3" rx="16.8" ry="11.3" fill="none" stroke="#000" stroke-width="0.7"/>
<line x1="66.3" y1="459.0" x2="88.3" y2="488.3" stroke="#000" stroke-width="0.7"/>
<polygon points="92.6,494.0 83.7,488.8 88.3,488.3 90.1,484.0" fill="#000"/>
<line x1="171.0" y1="480.2" x2="212.7" y2="491.9" stroke="#000" stroke-width="0.7"/>
<polygon points="219.6,493.8 209.4,495.1 212.7,491.9 211.5,487.4" fill="#000"/>
<line x1="360.3" y1="466.9" x2="388.0" y2="489.3" stroke="#000" stroke-width="0.7"/>
<polygon points="393.5,493.8 383.6,490.9 388.0,489.3 388.6,484.7" fill="#000"/>
<rect x="77.4" y="494.2" width="63.2" height="62.3" fill="#fff" stroke="#262626" stroke-width="1.1"/>
<clipPath id="c379"><rect x="77.4" y="494.2" width="63.2" height="62.3"/></clipPath>
<g clip-path="url(#c379)">
<path d="M113.50,543.90 L114.10,511.90 C114.37,511.60 114.61,510.95 114.90,511.00 C115.59,511.12 116.53,515.26 117.40,517.40 C118.29,519.59 119.03,522.26 120.20,524.00 C121.15,525.40 122.30,526.14 123.50,527.30 C124.87,528.63 126.42,530.06 128.00,531.50 C129.71,533.06 131.44,534.68 133.40,536.30 C135.60,538.11 138.20,539.97 140.60,541.80" fill="none" stroke="#000" stroke-width="1.80" stroke-linejoin="round" stroke-linecap="round"/>
<path d="M86.00,557.50 C86.70,550.40 87.33,542.85 88.10,536.20 C88.78,530.32 89.37,524.16 90.30,519.60 C90.97,516.33 91.74,513.44 92.60,511.30 C93.19,509.84 93.69,508.69 94.50,507.80 C95.20,507.02 96.18,506.25 97.00,506.10 C97.68,505.98 98.34,506.27 99.00,506.60 C99.81,507.01 100.47,507.62 101.40,508.60 C103.14,510.44 105.82,514.58 108.00,517.40 C110.06,520.07 112.53,522.85 114.10,525.10 C115.24,526.73 115.87,527.90 116.80,529.50 C117.89,531.36 118.95,533.95 120.20,535.60 C121.22,536.95 122.11,537.72 123.50,538.90 C125.48,540.58 128.52,542.42 131.20,544.40 C134.19,546.62 137.47,549.20 140.60,551.60" fill="none" stroke="#00f" stroke-width="1.80" stroke-linejoin="round" stroke-linecap="round"/>
<path d="M86.80,557.50 C87.60,551.13 88.13,543.71 89.20,538.40 C89.99,534.50 90.96,530.76 92.00,528.40 C92.63,526.98 93.17,525.90 94.00,525.20 C94.69,524.62 95.58,524.21 96.40,524.20 C97.25,524.19 98.12,524.66 99.00,525.20 C100.15,525.91 101.23,526.99 102.50,528.40 C104.45,530.56 107.15,534.53 109.10,537.30 C110.75,539.64 112.03,541.70 113.50,543.90 C113.87,539.83 114.27,536.29 114.60,531.70 C115.03,525.77 114.85,514.24 115.70,511.30 C115.96,510.42 116.29,509.71 116.60,509.70 C116.89,509.69 117.23,510.45 117.50,511.00 C117.89,511.79 118.15,512.83 118.50,514.10 C119.04,516.08 119.43,519.63 120.20,521.80 C120.81,523.51 121.47,524.90 122.40,526.20 C123.31,527.46 124.34,528.23 125.70,529.50 C127.71,531.37 130.84,534.11 133.40,536.20 C135.81,538.16 138.20,539.87 140.60,541.70" fill="none" stroke="#f00" stroke-width="1.80" stroke-linejoin="round" stroke-linecap="round"/>
</g>
<line x1="77.4" y1="510.8" x2="79.2" y2="510.8" stroke="#262626" stroke-width="0.8"/>
<line x1="140.6" y1="510.8" x2="138.8" y2="510.8" stroke="#262626" stroke-width="0.8"/>
<line x1="77.4" y1="542.2" x2="79.2" y2="542.2" stroke="#262626" stroke-width="0.8"/>
<line x1="140.6" y1="542.2" x2="138.8" y2="542.2" stroke="#262626" stroke-width="0.8"/>
<line x1="93.7" y1="494.2" x2="93.7" y2="496.0" stroke="#262626" stroke-width="0.8"/>
<line x1="93.7" y1="556.5" x2="93.7" y2="554.7" stroke="#262626" stroke-width="0.8"/>
<line x1="111.9" y1="494.2" x2="111.9" y2="496.0" stroke="#262626" stroke-width="0.8"/>
<line x1="111.9" y1="556.5" x2="111.9" y2="554.7" stroke="#262626" stroke-width="0.8"/>
<line x1="130.1" y1="494.2" x2="130.1" y2="496.0" stroke="#262626" stroke-width="0.8"/>
<line x1="130.1" y1="556.5" x2="130.1" y2="554.7" stroke="#262626" stroke-width="0.8"/>
<text x="73.2" y="515.2" text-anchor="end" style='font-family:"Liberation Sans",sans-serif;font-size:10px;letter-spacing:0.85px;fill:#262626;stroke:#262626;stroke-width:0.25px'>40</text>
<text x="73.2" y="546.4" text-anchor="end" style='font-family:"Liberation Sans",sans-serif;font-size:10px;letter-spacing:0.85px;fill:#262626;stroke:#262626;stroke-width:0.25px'>20</text>
<text x="93.5" y="573.1" text-anchor="middle" style='font-family:"Liberation Mono",monospace;font-size:10.4px;fill:#262626'>0.1</text>
<text x="130.6" y="573.1" text-anchor="middle" style='font-family:"Liberation Mono",monospace;font-size:10.4px;fill:#262626'>0.3</text>
<rect x="235.7" y="478.5" width="78.8" height="78.4" fill="#fff" stroke="#262626" stroke-width="1.1"/>
<clipPath id="c400"><rect x="235.7" y="478.5" width="78.8" height="78.4"/></clipPath>
<g clip-path="url(#c400)">
<path d="M268.10,497.50 C268.20,508.33 268.21,521.24 268.40,530.00 C268.53,535.96 267.86,543.44 268.90,545.00 C269.20,545.44 269.68,545.66 270.00,545.50 C270.73,545.15 270.66,540.76 271.50,539.50 C272.03,538.70 272.71,538.00 273.50,538.00 C274.66,538.00 275.74,540.68 277.80,541.20 C281.49,542.13 289.20,539.53 294.90,538.70" fill="none" stroke="#000" stroke-width="1.80" stroke-linejoin="round" stroke-linecap="round"/>
<path d="M235.70,494.70 C241.50,495.33 247.49,496.13 253.10,496.60 C258.33,497.04 265.94,495.79 268.30,497.50 C269.52,498.39 269.31,501.32 269.80,501.30 C270.44,501.27 270.53,495.13 271.70,494.70 C272.70,494.33 273.87,496.96 275.90,497.50 C279.85,498.55 288.53,496.83 294.90,496.20 C301.37,495.56 307.90,494.53 314.40,493.70" fill="none" stroke="#00f" stroke-width="1.80" stroke-linejoin="round" stroke-linecap="round"/>
<path d="M235.70,493.20 C241.50,494.20 247.48,495.48 253.10,496.20 C258.32,496.87 263.23,497.07 268.30,497.50 C268.43,508.33 268.50,520.48 268.70,530.00 C268.86,537.47 268.91,546.47 269.30,550.00 C269.44,551.28 269.60,552.60 269.80,552.60 C270.07,552.60 270.48,549.81 270.80,548.00 C271.26,545.45 270.94,539.42 272.10,538.70 C272.70,538.33 273.65,539.14 274.50,539.50 C275.53,539.93 276.21,540.94 277.80,541.20 C281.23,541.77 289.05,539.95 294.90,538.70 C301.23,537.35 307.90,535.03 314.40,533.20" fill="none" stroke="#f00" stroke-width="1.80" stroke-linejoin="round" stroke-linecap="round"/>
</g>
<line x1="235.7" y1="483.7" x2="237.5" y2="483.7" stroke="#262626" stroke-width="0.8"/>
<line x1="314.5" y1="483.7" x2="312.7" y2="483.7" stroke="#262626" stroke-width="0.8"/>
<line x1="235.7" y1="505.1" x2="237.5" y2="505.1" stroke="#262626" stroke-width="0.8"/>
<line x1="314.5" y1="505.1" x2="312.7" y2="505.1" stroke="#262626" stroke-width="0.8"/>
<line x1="235.7" y1="526.9" x2="237.5" y2="526.9" stroke="#262626" stroke-width="0.8"/>
<line x1="314.5" y1="526.9" x2="312.7" y2="526.9" stroke="#262626" stroke-width="0.8"/>
<line x1="235.7" y1="548.8" x2="237.5" y2="548.8" stroke="#262626" stroke-width="0.8"/>
<line x1="314.5" y1="548.8" x2="312.7" y2="548.8" stroke="#262626" stroke-width="0.8"/>
<line x1="242.1" y1="478.5" x2="242.1" y2="480.3" stroke="#262626" stroke-width="0.8"/>
<line x1="242.1" y1="556.9" x2="242.1" y2="555.1" stroke="#262626" stroke-width="0.8"/>
<line x1="256.5" y1="478.5" x2="256.5" y2="480.3" stroke="#262626" stroke-width="0.8"/>
<line x1="256.5" y1="556.9" x2="256.5" y2="555.1" stroke="#262626" stroke-width="0.8"/>
<line x1="271.2" y1="478.5" x2="271.2" y2="480.3" stroke="#262626" stroke-width="0.8"/>
<line x1="271.2" y1="556.9" x2="271.2" y2="555.1" stroke="#262626" stroke-width="0.8"/>
<line x1="285.5" y1="478.5" x2="285.5" y2="480.3" stroke="#262626" stroke-width="0.8"/>
<line x1="285.5" y1="556.9" x2="285.5" y2="555.1" stroke="#262626" stroke-width="0.8"/>
<line x1="299.6" y1="478.5" x2="299.6" y2="480.3" stroke="#262626" stroke-width="0.8"/>
<line x1="299.6" y1="556.9" x2="299.6" y2="555.1" stroke="#262626" stroke-width="0.8"/>
<text x="231.2" y="487.2" text-anchor="end" style='font-family:"Liberation Sans",sans-serif;font-size:10px;letter-spacing:0.85px;fill:#262626;stroke:#262626;stroke-width:0.25px'>0</text>
<text x="231.2" y="508.6" text-anchor="end" style='font-family:"Liberation Sans",sans-serif;font-size:10px;letter-spacing:0.85px;fill:#262626;stroke:#262626;stroke-width:0.25px'>&#8722;10</text>
<text x="231.2" y="530.4" text-anchor="end" style='font-family:"Liberation Sans",sans-serif;font-size:10px;letter-spacing:0.85px;fill:#262626;stroke:#262626;stroke-width:0.25px'>&#8722;20</text>
<text x="231.2" y="552.3" text-anchor="end" style='font-family:"Liberation Sans",sans-serif;font-size:10px;letter-spacing:0.85px;fill:#262626;stroke:#262626;stroke-width:0.25px'>&#8722;30</text>
<text x="242.1" y="573.0" text-anchor="middle" style='font-family:"Liberation Mono",monospace;font-size:10.4px;fill:#262626'>1.2</text>
<text x="271.2" y="573.0" text-anchor="middle" style='font-family:"Liberation Mono",monospace;font-size:10.4px;fill:#262626'>1.6</text>
<text x="299.6" y="573.0" text-anchor="middle" style='font-family:"Liberation Mono",monospace;font-size:10.4px;fill:#262626'>2</text>
<rect x="410.0" y="478.5" width="78.5" height="77.8" fill="#fff" stroke="#262626" stroke-width="1.1"/>
<clipPath id="c432"><rect x="410.0" y="478.5" width="78.5" height="77.8"/></clipPath>
<g clip-path="url(#c432)">
<path d="M444.90,535.20 L445.50,506.00 C445.73,504.67 445.81,502.67 446.20,502.00 C446.37,501.71 446.63,501.45 446.80,501.50 C447.12,501.60 447.20,503.23 447.50,504.00 C447.78,504.72 448.06,505.90 448.50,506.00 C448.91,506.09 449.51,505.16 450.00,504.80 C450.44,504.47 450.87,504.20 451.30,503.90" fill="none" stroke="#000" stroke-width="1.80" stroke-linejoin="round" stroke-linecap="round"/>
<path d="M410.00,535.50 C415.93,535.40 421.93,535.30 427.80,535.20 C433.53,535.10 442.28,536.41 444.80,534.90 C445.87,534.26 445.85,532.15 446.30,532.20 C446.87,532.26 447.07,536.64 447.80,536.90 C448.27,537.07 448.92,536.13 449.50,535.80 C450.08,535.47 450.41,535.10 451.30,534.90 C453.39,534.44 457.91,535.09 462.40,535.20 C469.32,535.37 480.00,535.60 488.80,535.80" fill="none" stroke="#00f" stroke-width="1.80" stroke-linejoin="round" stroke-linecap="round"/>
<path d="M410.00,538.00 C415.93,537.40 421.90,536.67 427.80,536.20 C433.60,535.74 439.33,535.53 445.10,535.20 L445.70,506.00 C445.90,503.17 446.00,499.08 446.30,497.50 C446.42,496.87 446.57,496.20 446.70,496.20 C446.83,496.20 446.98,496.89 447.10,497.50 C447.37,498.83 447.44,502.52 447.80,504.00 C448.00,504.80 448.13,505.70 448.50,505.80 C448.87,505.90 449.51,504.96 450.00,504.60 C450.44,504.27 450.57,503.90 451.30,503.70 C453.55,503.09 460.96,504.30 466.50,504.90 C473.23,505.63 481.37,506.97 488.80,508.00" fill="none" stroke="#f00" stroke-width="1.80" stroke-linejoin="round" stroke-linecap="round"/>
</g>
<line x1="410.0" y1="481.0" x2="411.8" y2="481.0" stroke="#262626" stroke-width="0.8"/>
<line x1="488.5" y1="481.0" x2="486.7" y2="481.0" stroke="#262626" stroke-width="0.8"/>
<line x1="410.0" y1="511.6" x2="411.8" y2="511.6" stroke="#262626" stroke-width="0.8"/>
<line x1="488.5" y1="511.6" x2="486.7" y2="511.6" stroke="#262626" stroke-width="0.8"/>
<line x1="410.0" y1="542.6" x2="411.8" y2="542.6" stroke="#262626" stroke-width="0.8"/>
<line x1="488.5" y1="542.6" x2="486.7" y2="542.6" stroke="#262626" stroke-width="0.8"/>
<line x1="413.0" y1="478.5" x2="413.0" y2="480.3" stroke="#262626" stroke-width="0.8"/>
<line x1="413.0" y1="556.3" x2="413.0" y2="554.5" stroke="#262626" stroke-width="0.8"/>
<line x1="425.5" y1="478.5" x2="425.5" y2="480.3" stroke="#262626" stroke-width="0.8"/>
<line x1="425.5" y1="556.3" x2="425.5" y2="554.5" stroke="#262626" stroke-width="0.8"/>
<line x1="438.0" y1="478.5" x2="438.0" y2="480.3" stroke="#262626" stroke-width="0.8"/>
<line x1="438.0" y1="556.3" x2="438.0" y2="554.5" stroke="#262626" stroke-width="0.8"/>
<line x1="450.5" y1="478.5" x2="450.5" y2="480.3" stroke="#262626" stroke-width="0.8"/>
<line x1="450.5" y1="556.3" x2="450.5" y2="554.5" stroke="#262626" stroke-width="0.8"/>
<line x1="463.0" y1="478.5" x2="463.0" y2="480.3" stroke="#262626" stroke-width="0.8"/>
<line x1="463.0" y1="556.3" x2="463.0" y2="554.5" stroke="#262626" stroke-width="0.8"/>
<line x1="475.5" y1="478.5" x2="475.5" y2="480.3" stroke="#262626" stroke-width="0.8"/>
<line x1="475.5" y1="556.3" x2="475.5" y2="554.5" stroke="#262626" stroke-width="0.8"/>
<text x="405.0" y="485.3" text-anchor="end" style='font-family:"Liberation Sans",sans-serif;font-size:10px;letter-spacing:0.85px;fill:#262626;stroke:#262626;stroke-width:0.25px'>40</text>
<text x="405.0" y="516.4" text-anchor="end" style='font-family:"Liberation Sans",sans-serif;font-size:10px;letter-spacing:0.85px;fill:#262626;stroke:#262626;stroke-width:0.25px'>20</text>
<text x="405.0" y="547.4" text-anchor="end" style='font-family:"Liberation Sans",sans-serif;font-size:10px;letter-spacing:0.85px;fill:#262626;stroke:#262626;stroke-width:0.25px'>0</text>
<text x="413.1" y="572.9" text-anchor="middle" style='font-family:"Liberation Mono",monospace;font-size:10.4px;fill:#262626'>4.2</text>
<text x="438.0" y="572.9" text-anchor="middle" style='font-family:"Liberation Mono",monospace;font-size:10.4px;fill:#262626'>4.6</text>
<text x="463.1" y="572.9" text-anchor="middle" style='font-family:"Liberation Mono",monospace;font-size:10.4px;fill:#262626'>5</text>
<text x="487.6" y="572.9" text-anchor="middle" style='font-family:"Liberation Mono",monospace;font-size:10.4px;fill:#262626'>5.4</text>
<rect x="505.3" y="526.5" width="171.4" height="42.9" fill="#fff" stroke="#262626" stroke-width="1"/>
<line x1="507.5" y1="534.1" x2="538.8" y2="534.1" stroke="#000" stroke-width="1.6"/>
<text x="541.6" y="538.1" style='font-family:"Liberation Mono",monospace;font-size:9.5px;font-weight:bold;fill:#000'>Ideal value</text>
<line x1="507.5" y1="547.8" x2="538.8" y2="547.8" stroke="#00f" stroke-width="1.6"/>
<text x="541.6" y="551.8" style='font-family:"Liberation Mono",monospace;font-size:9.5px;font-weight:bold;fill:#000'>Value before correction</text>
<line x1="507.5" y1="561.5" x2="538.8" y2="561.5" stroke="#f00" stroke-width="1.6"/>
<text x="541.6" y="565.5" style='font-family:"Liberation Mono",monospace;font-size:9.5px;font-weight:bold;fill:#000'>Corrected value</text>
</svg>
</body></html>
